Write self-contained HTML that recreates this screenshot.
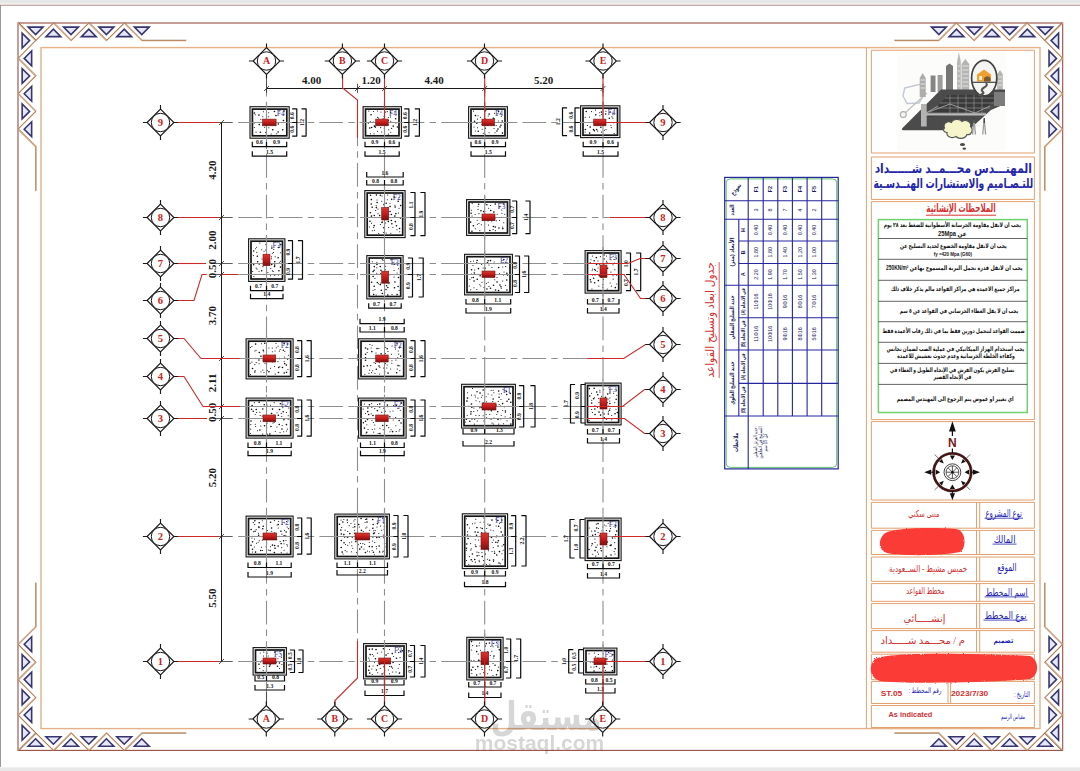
<!DOCTYPE html>
<html lang="ar"><head><meta charset="utf-8"><title>مخطط القواعد</title>
<style>html,body{margin:0;padding:0;background:#fff}body{width:1080px;height:771px;overflow:hidden}svg{display:block}</style>
</head><body>
<svg width="1080" height="771" viewBox="0 0 1080 771">
<defs><linearGradient id="cg" x1="0" y1="0" x2="0" y2="1"><stop offset="0" stop-color="#d83a30"/><stop offset=".5" stop-color="#c41c1c"/><stop offset="1" stop-color="#7a1010"/></linearGradient></defs>
<rect width="1080" height="771" fill="#fff"/>
<rect x="0" y="0" width="1080" height="3.2" fill="#e3e7e6"/><rect x="0" y="3.2" width="1080" height="1.6" fill="#f3ebea"/>
<rect x="0" y="4.8" width="1080" height="0.9" fill="#a58a86"/>
<rect x="0" y="5" width="0.9" height="762" fill="#9a8888"/>
<rect x="0" y="767.4" width="1080" height="3.6" fill="#e8e8e8"/>
<rect x="18" y="23" width="1044.7" height="727.4" fill="none" stroke="#9c4c42" stroke-width="1.1"/>
<rect x="41" y="47.6" width="999" height="681.0" fill="none" stroke="#e6b088" stroke-width="1.4"/>
<g id="orn" transform="translate(18,23)"><path d="M0 0 L17.6 17.6 L35.4 0 L53 17.6 L70.8 0 L88.4 17.6 L106.2 0 L123.8 17.6 L168 17.6 M0 0 L17.6 17.6 L0 35.4 L17.6 53 L0 70.8 L17.6 88.4 L0 106.2 L17.6 123.8 L17.6 168" fill="none" stroke="#d9a273" stroke-width="1.2"/><path d="M0 0 L17.6 17.6 L35.4 0 L53 17.6 L70.8 0 L88.4 17.6 L106.2 0 L123.8 17.6 L168 17.6 M0 0 L17.6 17.6 L0 35.4 L17.6 53 L0 70.8 L17.6 88.4 L0 106.2 L17.6 123.8 L17.6 168" fill="none" stroke="#6b4a3a" stroke-width="0.45" transform="translate(0.6,-0.5)"/><path d="M10.2 4.15 L25 4.15 L17.6 11.6Z M45.6 4.15 L60.4 4.15 L53 11.6Z M81 4.15 L95.8 4.15 L88.4 11.6Z M116.4 4.15 L131.2 4.15 L123.8 11.6Z M28 13.65 L42.8 13.65 L35.4 6.2Z M63.4 13.65 L78.2 13.65 L70.8 6.2Z M98.8 13.65 L113.6 13.65 L106.2 6.2Z M4.15 10.2 L4.15 25 L11.6 17.6Z M4.15 45.6 L4.15 60.4 L11.6 53Z M4.15 81 L4.15 95.8 L11.6 88.4Z M13.65 28 L13.65 42.8 L6.2 35.4Z M13.65 63.4 L13.65 78.2 L6.2 70.8Z M13.65 98.8 L13.65 113.6 L6.2 106.2Z" fill="#e6e8fa" stroke="#38356e" stroke-width="1.6" stroke-linejoin="miter"/></g>
<g transform="translate(1062.7,23) scale(-1,1)"><path d="M0 0 L17.6 17.6 L35.4 0 L53 17.6 L70.8 0 L88.4 17.6 L106.2 0 L123.8 17.6 L168 17.6 M0 0 L17.6 17.6 L0 35.4 L17.6 53 L0 70.8 L17.6 88.4 L0 106.2 L17.6 123.8 L17.6 168" fill="none" stroke="#d9a273" stroke-width="1.2"/><path d="M0 0 L17.6 17.6 L35.4 0 L53 17.6 L70.8 0 L88.4 17.6 L106.2 0 L123.8 17.6 L168 17.6 M0 0 L17.6 17.6 L0 35.4 L17.6 53 L0 70.8 L17.6 88.4 L0 106.2 L17.6 123.8 L17.6 168" fill="none" stroke="#6b4a3a" stroke-width="0.45" transform="translate(0.6,-0.5)"/><path d="M10.2 4.15 L25 4.15 L17.6 11.6Z M45.6 4.15 L60.4 4.15 L53 11.6Z M81 4.15 L95.8 4.15 L88.4 11.6Z M116.4 4.15 L131.2 4.15 L123.8 11.6Z M28 13.65 L42.8 13.65 L35.4 6.2Z M63.4 13.65 L78.2 13.65 L70.8 6.2Z M98.8 13.65 L113.6 13.65 L106.2 6.2Z M4.15 10.2 L4.15 25 L11.6 17.6Z M4.15 45.6 L4.15 60.4 L11.6 53Z M4.15 81 L4.15 95.8 L11.6 88.4Z M13.65 28 L13.65 42.8 L6.2 35.4Z M13.65 63.4 L13.65 78.2 L6.2 70.8Z M13.65 98.8 L13.65 113.6 L6.2 106.2Z" fill="#e6e8fa" stroke="#38356e" stroke-width="1.6" stroke-linejoin="miter"/></g>
<g transform="translate(18,750.4) scale(1,-1)"><path d="M0 0 L17.6 17.6 L35.4 0 L53 17.6 L70.8 0 L88.4 17.6 L106.2 0 L123.8 17.6 L168 17.6 M0 0 L17.6 17.6 L0 35.4 L17.6 53 L0 70.8 L17.6 88.4 L0 106.2 L17.6 123.8 L17.6 168" fill="none" stroke="#d9a273" stroke-width="1.2"/><path d="M0 0 L17.6 17.6 L35.4 0 L53 17.6 L70.8 0 L88.4 17.6 L106.2 0 L123.8 17.6 L168 17.6 M0 0 L17.6 17.6 L0 35.4 L17.6 53 L0 70.8 L17.6 88.4 L0 106.2 L17.6 123.8 L17.6 168" fill="none" stroke="#6b4a3a" stroke-width="0.45" transform="translate(0.6,-0.5)"/><path d="M10.2 4.15 L25 4.15 L17.6 11.6Z M45.6 4.15 L60.4 4.15 L53 11.6Z M81 4.15 L95.8 4.15 L88.4 11.6Z M116.4 4.15 L131.2 4.15 L123.8 11.6Z M28 13.65 L42.8 13.65 L35.4 6.2Z M63.4 13.65 L78.2 13.65 L70.8 6.2Z M98.8 13.65 L113.6 13.65 L106.2 6.2Z M4.15 10.2 L4.15 25 L11.6 17.6Z M4.15 45.6 L4.15 60.4 L11.6 53Z M4.15 81 L4.15 95.8 L11.6 88.4Z M13.65 28 L13.65 42.8 L6.2 35.4Z M13.65 63.4 L13.65 78.2 L6.2 70.8Z M13.65 98.8 L13.65 113.6 L6.2 106.2Z" fill="#e6e8fa" stroke="#38356e" stroke-width="1.6" stroke-linejoin="miter"/></g>
<g transform="translate(1062.7,750.4) scale(-1,-1)"><path d="M0 0 L17.6 17.6 L35.4 0 L53 17.6 L70.8 0 L88.4 17.6 L106.2 0 L123.8 17.6 L168 17.6 M0 0 L17.6 17.6 L0 35.4 L17.6 53 L0 70.8 L17.6 88.4 L0 106.2 L17.6 123.8 L17.6 168" fill="none" stroke="#d9a273" stroke-width="1.2"/><path d="M0 0 L17.6 17.6 L35.4 0 L53 17.6 L70.8 0 L88.4 17.6 L106.2 0 L123.8 17.6 L168 17.6 M0 0 L17.6 17.6 L0 35.4 L17.6 53 L0 70.8 L17.6 88.4 L0 106.2 L17.6 123.8 L17.6 168" fill="none" stroke="#6b4a3a" stroke-width="0.45" transform="translate(0.6,-0.5)"/><path d="M10.2 4.15 L25 4.15 L17.6 11.6Z M45.6 4.15 L60.4 4.15 L53 11.6Z M81 4.15 L95.8 4.15 L88.4 11.6Z M116.4 4.15 L131.2 4.15 L123.8 11.6Z M28 13.65 L42.8 13.65 L35.4 6.2Z M63.4 13.65 L78.2 13.65 L70.8 6.2Z M98.8 13.65 L113.6 13.65 L106.2 6.2Z M4.15 10.2 L4.15 25 L11.6 17.6Z M4.15 45.6 L4.15 60.4 L11.6 53Z M4.15 81 L4.15 95.8 L11.6 88.4Z M13.65 28 L13.65 42.8 L6.2 35.4Z M13.65 63.4 L13.65 78.2 L6.2 70.8Z M13.65 98.8 L13.65 113.6 L6.2 106.2Z" fill="#e6e8fa" stroke="#38356e" stroke-width="1.6" stroke-linejoin="miter"/></g>
<path d="M232 122.5H606" stroke="#8e8e8e" stroke-width="1.1" stroke-dasharray="23.7 5.2 6.5 5.2" stroke-dashoffset="34.4" fill="none"/>
<path d="M213 122.5H232" stroke="#333" stroke-width="0.8"/>
<path d="M232 217.5H609" stroke="#8e8e8e" stroke-width="1.1" stroke-dasharray="23.7 5.2 6.5 5.2" stroke-dashoffset="34.4" fill="none"/>
<path d="M213 217.5H232" stroke="#333" stroke-width="0.8"/>
<path d="M232 263.5H590" stroke="#8e8e8e" stroke-width="1.1" stroke-dasharray="23.7 5.2 6.5 5.2" stroke-dashoffset="34.4" fill="none"/>
<path d="M213 263.5H232" stroke="#333" stroke-width="0.8"/>
<path d="M232 274.5H590" stroke="#8e8e8e" stroke-width="1.1" stroke-dasharray="23.7 5.2 6.5 5.2" stroke-dashoffset="34.4" fill="none"/>
<path d="M213 274.5H232" stroke="#333" stroke-width="0.8"/>
<path d="M232 358.5H590" stroke="#8e8e8e" stroke-width="1.1" stroke-dasharray="23.7 5.2 6.5 5.2" stroke-dashoffset="34.4" fill="none"/>
<path d="M213 358.5H232" stroke="#333" stroke-width="0.8"/>
<path d="M232 406.5H590" stroke="#8e8e8e" stroke-width="1.1" stroke-dasharray="23.7 5.2 6.5 5.2" stroke-dashoffset="34.4" fill="none"/>
<path d="M213 406.5H232" stroke="#333" stroke-width="0.8"/>
<path d="M232 418.5H590" stroke="#8e8e8e" stroke-width="1.1" stroke-dasharray="23.7 5.2 6.5 5.2" stroke-dashoffset="34.4" fill="none"/>
<path d="M213 418.5H232" stroke="#333" stroke-width="0.8"/>
<path d="M232 536.5H612" stroke="#8e8e8e" stroke-width="1.1" stroke-dasharray="23.7 5.2 6.5 5.2" stroke-dashoffset="34.4" fill="none"/>
<path d="M213 536.5H232" stroke="#333" stroke-width="0.8"/>
<path d="M232 661.5H606" stroke="#8e8e8e" stroke-width="1.1" stroke-dasharray="23.7 5.2 6.5 5.2" stroke-dashoffset="34.4" fill="none"/>
<path d="M213 661.5H232" stroke="#333" stroke-width="0.8"/>
<path d="M266.5 88.5V705" stroke="#8e8e8e" stroke-width="1.1" stroke-dasharray="23.7 5.2 6.5 5.2" stroke-dashoffset="15.6" fill="none"/>
<path d="M357.5 138V641" stroke="#8e8e8e" stroke-width="1.1" stroke-dasharray="23.7 5.2 6.5 5.2" stroke-dashoffset="15.6" fill="none"/>
<path d="M384.5 88.5V705" stroke="#8e8e8e" stroke-width="1.1" stroke-dasharray="23.7 5.2 6.5 5.2" stroke-dashoffset="15.6" fill="none"/>
<path d="M484.7 88.5V705" stroke="#8e8e8e" stroke-width="1.1" stroke-dasharray="23.7 5.2 6.5 5.2" stroke-dashoffset="15.6" fill="none"/>
<path d="M603 88.5V705" stroke="#8e8e8e" stroke-width="1.1" stroke-dasharray="23.7 5.2 6.5 5.2" stroke-dashoffset="15.6" fill="none"/>
<path d="M266.5 88.5H603" stroke="#1a1a1a" stroke-width="1"/>
<path d="M266.5 83.7V92.8 M264 91L269 86" stroke="#222" stroke-width="0.8"/>
<path d="M357.5 83.7V92.8 M355 91L360 86" stroke="#222" stroke-width="0.8"/>
<path d="M384.5 83.7V92.8 M382 91L387 86" stroke="#222" stroke-width="0.8"/>
<path d="M484.7 83.7V92.8 M482.2 91L487.2 86" stroke="#222" stroke-width="0.8"/>
<path d="M603 83.7V92.8 M600.5 91L605.5 86" stroke="#222" stroke-width="0.8"/>
<path d="M221.5 122.5V661.5" stroke="#1a1a1a" stroke-width="1"/>
<path d="M219 125L224 120" stroke="#222" stroke-width="0.8"/>
<path d="M219 220L224 215" stroke="#222" stroke-width="0.8"/>
<path d="M219 266L224 261" stroke="#222" stroke-width="0.8"/>
<path d="M219 277L224 272" stroke="#222" stroke-width="0.8"/>
<path d="M219 361L224 356" stroke="#222" stroke-width="0.8"/>
<path d="M219 409L224 404" stroke="#222" stroke-width="0.8"/>
<path d="M219 421L224 416" stroke="#222" stroke-width="0.8"/>
<path d="M219 539L224 534" stroke="#222" stroke-width="0.8"/>
<path d="M219 664L224 659" stroke="#222" stroke-width="0.8"/>
<text x="311.5" y="84.2" text-anchor="middle" font-family="Liberation Serif,serif" font-weight="bold" font-size="11" fill="#1a1a1a">4.00</text>
<text x="371" y="84.2" text-anchor="middle" font-family="Liberation Serif,serif" font-weight="bold" font-size="11" fill="#1a1a1a">1.20</text>
<text x="434" y="84.2" text-anchor="middle" font-family="Liberation Serif,serif" font-weight="bold" font-size="11" fill="#1a1a1a">4.40</text>
<text x="543.7" y="84.2" text-anchor="middle" font-family="Liberation Serif,serif" font-weight="bold" font-size="11" fill="#1a1a1a">5.20</text>
<text transform="translate(216.2,170) rotate(-90)" text-anchor="middle" font-family="Liberation Serif,serif" font-weight="bold" font-size="11" fill="#1a1a1a">4.20</text>
<text transform="translate(216.2,240) rotate(-90)" text-anchor="middle" font-family="Liberation Serif,serif" font-weight="bold" font-size="11" fill="#1a1a1a">2.00</text>
<text transform="translate(216.2,268.5) rotate(-90)" text-anchor="middle" font-family="Liberation Serif,serif" font-weight="bold" font-size="11" fill="#1a1a1a">0.50</text>
<text transform="translate(216.2,315.7) rotate(-90)" text-anchor="middle" font-family="Liberation Serif,serif" font-weight="bold" font-size="11" fill="#1a1a1a">3.70</text>
<text transform="translate(216.2,382.8) rotate(-90)" text-anchor="middle" font-family="Liberation Serif,serif" font-weight="bold" font-size="11" fill="#1a1a1a">2.11</text>
<text transform="translate(216.2,412.4) rotate(-90)" text-anchor="middle" font-family="Liberation Serif,serif" font-weight="bold" font-size="11" fill="#1a1a1a">0.50</text>
<text transform="translate(216.2,477.5) rotate(-90)" text-anchor="middle" font-family="Liberation Serif,serif" font-weight="bold" font-size="11" fill="#1a1a1a">5.20</text>
<text transform="translate(216.2,598) rotate(-90)" text-anchor="middle" font-family="Liberation Serif,serif" font-weight="bold" font-size="11" fill="#1a1a1a">5.50</text>
<path d="M266.5 75V88.5" stroke="#444" stroke-width="0.9"/>
<path d="M266.5 692V705" stroke="#444" stroke-width="0.9"/>
<rect x="250" y="106.7" width="39.2" height="31.5" fill="#fafafa" stroke="#141414" stroke-width="1.1"/>
<rect x="252.4" y="109.1" width="34.4" height="26.7" fill="#fff" stroke="#141414" stroke-width="1.7"/>
<rect x="363.1" y="106.7" width="38.3" height="31.5" fill="#fafafa" stroke="#141414" stroke-width="1.1"/>
<rect x="365.5" y="109.1" width="33.5" height="26.7" fill="#fff" stroke="#141414" stroke-width="1.7"/>
<rect x="468.6" y="106.7" width="38.8" height="31.5" fill="#fafafa" stroke="#141414" stroke-width="1.1"/>
<rect x="471" y="109.1" width="34" height="26.7" fill="#fff" stroke="#141414" stroke-width="1.7"/>
<rect x="580.6" y="105.8" width="39.3" height="31.8" fill="#fafafa" stroke="#141414" stroke-width="1.1"/>
<rect x="583" y="108.2" width="34.5" height="27" fill="#fff" stroke="#141414" stroke-width="1.7"/>
<rect x="364.8" y="190.6" width="40.3" height="47" fill="#fafafa" stroke="#141414" stroke-width="1.1"/>
<rect x="367.2" y="193" width="35.5" height="42.2" fill="#fff" stroke="#141414" stroke-width="1.7"/>
<rect x="466.6" y="199.6" width="43.3" height="35.8" fill="#fafafa" stroke="#141414" stroke-width="1.1"/>
<rect x="469" y="202" width="38.5" height="31" fill="#fff" stroke="#141414" stroke-width="1.7"/>
<rect x="248.6" y="238.8" width="36.3" height="42.6" fill="#fafafa" stroke="#141414" stroke-width="1.1"/>
<rect x="251" y="241.2" width="31.5" height="37.8" fill="#fff" stroke="#141414" stroke-width="1.7"/>
<rect x="366.8" y="255.6" width="36.3" height="43.3" fill="#fafafa" stroke="#141414" stroke-width="1.1"/>
<rect x="369.2" y="258" width="31.5" height="38.5" fill="#fff" stroke="#141414" stroke-width="1.7"/>
<rect x="464.6" y="254.3" width="47.8" height="40.6" fill="#fafafa" stroke="#141414" stroke-width="1.1"/>
<rect x="467" y="256.7" width="43" height="35.8" fill="#fff" stroke="#141414" stroke-width="1.7"/>
<rect x="585.1" y="250.6" width="36" height="42.5" fill="#fafafa" stroke="#141414" stroke-width="1.1"/>
<rect x="587.5" y="253" width="31.2" height="37.7" fill="#fff" stroke="#141414" stroke-width="1.7"/>
<rect x="246.1" y="338.8" width="47" height="40.1" fill="#fafafa" stroke="#141414" stroke-width="1.1"/>
<rect x="248.5" y="341.2" width="42.2" height="35.3" fill="#fff" stroke="#141414" stroke-width="1.7"/>
<rect x="358.6" y="338.8" width="47.5" height="40.1" fill="#fafafa" stroke="#141414" stroke-width="1.1"/>
<rect x="361" y="341.2" width="42.7" height="35.3" fill="#fff" stroke="#141414" stroke-width="1.7"/>
<rect x="246.1" y="398.1" width="47" height="40" fill="#fafafa" stroke="#141414" stroke-width="1.1"/>
<rect x="248.5" y="400.5" width="42.2" height="35.2" fill="#fff" stroke="#141414" stroke-width="1.7"/>
<rect x="358.6" y="398.1" width="47.5" height="40" fill="#fafafa" stroke="#141414" stroke-width="1.1"/>
<rect x="361" y="400.5" width="42.7" height="35.2" fill="#fff" stroke="#141414" stroke-width="1.7"/>
<rect x="461.6" y="384.3" width="53.8" height="43.8" fill="#fafafa" stroke="#141414" stroke-width="1.1"/>
<rect x="464" y="386.7" width="49" height="39" fill="#fff" stroke="#141414" stroke-width="1.7"/>
<rect x="585.1" y="383.1" width="36" height="41.8" fill="#fafafa" stroke="#141414" stroke-width="1.1"/>
<rect x="587.5" y="385.5" width="31.2" height="37" fill="#fff" stroke="#141414" stroke-width="1.7"/>
<rect x="246.1" y="516.1" width="47" height="40.8" fill="#fafafa" stroke="#141414" stroke-width="1.1"/>
<rect x="248.5" y="518.5" width="42.2" height="36" fill="#fff" stroke="#141414" stroke-width="1.7"/>
<rect x="334.8" y="514.1" width="54.6" height="44.8" fill="#fafafa" stroke="#141414" stroke-width="1.1"/>
<rect x="337.2" y="516.5" width="49.8" height="40" fill="#fff" stroke="#141414" stroke-width="1.7"/>
<rect x="462.3" y="513.8" width="45.3" height="54.8" fill="#fafafa" stroke="#141414" stroke-width="1.1"/>
<rect x="464.7" y="516.2" width="40.5" height="50" fill="#fff" stroke="#141414" stroke-width="1.7"/>
<rect x="585.1" y="518.1" width="36" height="42.5" fill="#fafafa" stroke="#141414" stroke-width="1.1"/>
<rect x="587.5" y="520.5" width="31.2" height="37.7" fill="#fff" stroke="#141414" stroke-width="1.7"/>
<rect x="253.1" y="647.6" width="33.3" height="27.5" fill="#fafafa" stroke="#141414" stroke-width="1.1"/>
<rect x="255.5" y="650" width="28.5" height="22.7" fill="#fff" stroke="#141414" stroke-width="1.7"/>
<rect x="363.6" y="643.6" width="42.8" height="35.3" fill="#fafafa" stroke="#141414" stroke-width="1.1"/>
<rect x="366" y="646" width="38" height="30.5" fill="#fff" stroke="#141414" stroke-width="1.7"/>
<rect x="466.8" y="637.3" width="36.3" height="42.6" fill="#fafafa" stroke="#141414" stroke-width="1.1"/>
<rect x="469.2" y="639.7" width="31.5" height="37.8" fill="#fff" stroke="#141414" stroke-width="1.7"/>
<rect x="583.6" y="648.1" width="33.3" height="26.8" fill="#fafafa" stroke="#141414" stroke-width="1.1"/>
<rect x="586" y="650.5" width="28.5" height="22" fill="#fff" stroke="#141414" stroke-width="1.7"/>
<path d="M255.2 114.8h.1M254.1 123h.1M254.3 127.5h.1M256 132.1h.1M260.8 119.3h.1M263.5 111.7h.1M262.7 116.7h.1M264.5 119.7h.1M264.6 127.2h.1M268.6 112.7h.1M268.3 116.8h.1M268.8 122h.1M266 125.2h.1M268.8 127.7h.1M270.3 119.5h.1M270.1 124.3h.1M271.1 133.9h.1M275.1 120.7h.1M275.6 124.9h.1M276.6 133.8h.1M279.2 111h.1M283 115.1h.1M368.8 111.1h.1M370.4 121.8h.1M368.3 123.3h.1M370.4 133.8h.1M373.4 111.4h.1M373.3 122.1h.1M374 133.7h.1M377.5 110.9h.1M377.4 117.3h.1M377.5 119.8h.1M376.1 124.1h.1M377.5 131.2h.1M380.9 111.9h.1M378.6 118.1h.1M381.8 120.2h.1M380.6 127.6h.1M381.7 132h.1M385.6 112.1h.1M383.1 118.6h.1M384.1 125.3h.1M384.2 128.7h.1M387.2 111.6h.1M388.3 117.4h.1M388.4 120.5h.1M387.9 124.6h.1M388.7 129.8h.1M388.3 134.1h.1M390.4 117h.1M390.7 121.2h.1M391.6 128.4h.1M390.7 132.2h.1M394.7 111.8h.1M395.8 122.9h.1M473.5 111.1h.1M474 126.9h.1M475.3 131h.1M478 115.8h.1M477.4 119.1h.1M477.5 127.8h.1M480.4 117.3h.1M481.9 124.4h.1M482.1 129.2h.1M483.3 133.2h.1M485.2 134.2h.1M488.2 116h.1M489 132.8h.1M494.4 113.2h.1M494.4 118.8h.1M494.3 125.3h.1M494 128.5h.1M495 132.8h.1M497.3 115h.1M498.3 120.9h.1M496.1 125.5h.1M500.7 113.3h.1M501.3 116.3h.1M585.2 117.3h.1M587.4 125.4h.1M585 132h.1M591.4 111.6h.1M589.3 117.1h.1M595.5 110.1h.1M599.6 112.7h.1M599.8 115.8h.1M598.1 124.7h.1M597.7 131.1h.1M601.4 132.1h.1M605.9 111.2h.1M604.9 119.7h.1M606 129.5h.1M604.5 130.2h.1M611.8 116.8h.1M610.9 125.3h.1M611.2 127.6h.1M613.2 113.1h.1M612.9 114.7h.1M612.8 118.1h.1M613.8 122.7h.1M614.1 133.5h.1M371.5 223.3h.1M369.4 227h.1M372.2 230.7h.1M376.1 205.6h.1M375.6 210.5h.1M373.6 227.4h.1M374.4 230.3h.1M377 199.9h.1M377.9 209h.1M377.9 213.8h.1M380.3 224.5h.1M378.7 233.5h.1M382 196h.1M381.7 201.3h.1M382.2 221.8h.1M383.3 232.5h.1M387.6 194.9h.1M387.3 199.8h.1M387.3 207.5h.1M387 211.2h.1M388.8 214.7h.1M385.6 222.9h.1M388.6 227.5h.1M386.1 232.9h.1M390 203.3h.1M392.8 227.3h.1M390.8 233.2h.1M394.9 205.3h.1M396.9 229.7h.1M398.9 197.7h.1M399 208.2h.1M398.4 212.9h.1M400.3 218.4h.1M399.6 231.7h.1M472.1 203.6h.1M471.3 210.3h.1M472 216h.1M478.1 206.2h.1M478 209.4h.1M475.1 214.5h.1M477.2 220.3h.1M477.4 224.3h.1M475.2 228.8h.1M478.9 213.6h.1M481.6 217.7h.1M478.9 223.4h.1M481.3 224.8h.1M479.8 230.6h.1M485.1 203.7h.1M484.8 211.2h.1M484.7 217.3h.1M482.9 220.6h.1M488.6 208.3h.1M486.8 218h.1M488.5 225.1h.1M490.6 205.4h.1M492.3 218h.1M493.1 229.5h.1M497.1 214.2h.1M495.4 217.7h.1M496.3 220.7h.1M495.3 230.6h.1M501.7 209.9h.1M501.9 213.3h.1M501.5 217.3h.1M499.5 220.5h.1M504.7 214.2h.1M503.7 222.7h.1M502.6 227h.1M255.5 248.8h.1M253.3 255.6h.1M256.1 267.9h.1M252.6 271.5h.1M253.8 276.5h.1M259.8 243h.1M256.6 247.3h.1M256.7 252.2h.1M256.9 268.9h.1M259 271.3h.1M259.9 274.3h.1M261.7 249.8h.1M264 251.3h.1M263.6 257.1h.1M262 258.9h.1M263.5 262.8h.1M262.9 266.6h.1M265.6 250h.1M265.3 255.8h.1M265.3 263h.1M267.8 272.5h.1M266.6 274.5h.1M271.8 245.9h.1M272.3 253.2h.1M271.5 256.7h.1M271.4 258.7h.1M270.7 268.4h.1M272.5 270.7h.1M270.5 275.7h.1M273.7 249.4h.1M273.5 252.5h.1M275.1 256.7h.1M273.2 271.5h.1M280.3 252.8h.1M280.3 261.2h.1M279.3 262.7h.1M372.3 261.8h.1M373 290.2h.1M376.8 262.2h.1M376.7 267.7h.1M376.7 273.3h.1M374.9 278.5h.1M378.4 283.7h.1M374.9 289.6h.1M376.1 294.9h.1M382.3 259.6h.1M380.5 273.5h.1M382 276.9h.1M380.8 282.9h.1M383.1 260.2h.1M385.5 266.3h.1M385.4 269.7h.1M385.6 272.2h.1M384.7 292.6h.1M390.7 259.7h.1M389.4 274.8h.1M389.4 282.8h.1M388.8 283.8h.1M391.8 259.6h.1M394 270.5h.1M394 277.1h.1M392 294.5h.1M397.6 265.1h.1M398.4 268.8h.1M397 272.9h.1M399.1 290.4h.1M470.7 261.6h.1M468.5 263.3h.1M471.5 273.9h.1M471.6 277.8h.1M469.8 279.3h.1M469.2 285.9h.1M470.7 289.8h.1M473.5 261h.1M472.9 265.4h.1M474.6 269.9h.1M473.9 287.7h.1M476.7 262.5h.1M478.1 274.2h.1M479.7 284.8h.1M476.8 289.5h.1M481.6 264.5h.1M483.1 268h.1M481.9 282.3h.1M480.8 286h.1M485.4 274.9h.1M488.1 282.2h.1M486.3 283.5h.1M488.9 265h.1M491.9 267.5h.1M490.5 276h.1M488.9 286.5h.1M494.1 261.9h.1M493.1 263.4h.1M494.7 279.7h.1M499.4 273.7h.1M497 277.5h.1M503 262.4h.1M502.7 267h.1M504 271.9h.1M503.6 275h.1M502.6 280.9h.1M501.2 288.2h.1M505.6 266.6h.1M505.4 285.3h.1M592.5 255.9h.1M590.9 259.8h.1M592.6 269h.1M592.1 270.3h.1M592.4 274.9h.1M591.9 289h.1M595.5 270.5h.1M595 274.9h.1M600.3 256.6h.1M597.9 260.9h.1M598 268h.1M597.2 271.3h.1M598.8 285.9h.1M603.7 264.5h.1M603.2 268.8h.1M603 272.9h.1M603.4 279.6h.1M602.8 284.5h.1M602.7 287.3h.1M606.4 255.9h.1M606.5 261.2h.1M606.5 273.1h.1M606.1 275.5h.1M607.2 288.9h.1M613.1 256.3h.1M610.9 259.7h.1M612.9 264.7h.1M610.9 272.1h.1M613 275.7h.1M613.1 279.1h.1M610.1 282.9h.1M611.3 286.1h.1M616.5 258h.1M614.1 259.4h.1M614.2 262.9h.1M614.8 269.7h.1M616.4 275.1h.1M616.6 283.9h.1M251.9 346.4h.1M250.4 347.4h.1M251.9 362.1h.1M250.2 363.2h.1M250.4 374.6h.1M256 350.3h.1M254.8 351h.1M255.1 358.3h.1M256.1 362.6h.1M254.8 364.6h.1M255.1 370.4h.1M261.4 343.8h.1M259.1 363.7h.1M260.9 371.8h.1M263.7 351.7h.1M264.4 355.9h.1M263.2 360h.1M265 363.6h.1M262.8 370.1h.1M263.9 372.5h.1M268.9 348h.1M266.6 363.6h.1M267.3 370.6h.1M272.2 348.1h.1M272.3 351.8h.1M270.5 368.3h.1M276 343.4h.1M276.3 347.7h.1M275 350.9h.1M274.8 355.1h.1M274.5 366.5h.1M275.2 374.1h.1M278 346.2h.1M280.2 349.5h.1M279.3 351.1h.1M277.9 361.6h.1M279.7 366.7h.1M284.8 351.4h.1M284.6 357h.1M284.1 361.3h.1M288.3 355.3h.1M287.6 359.5h.1M287.9 369.5h.1M364.8 374.3h.1M369.9 344.5h.1M367.1 352.5h.1M369.6 370.1h.1M368.9 373.2h.1M372.1 345.2h.1M371.1 347.9h.1M372.2 358.5h.1M374 362.6h.1M370.7 365.6h.1M372.6 370.7h.1M371.6 372.6h.1M375.9 353h.1M375.4 363.5h.1M374.9 373.2h.1M378.8 348.4h.1M381.1 355.3h.1M379.2 362.6h.1M379.9 367.3h.1M379.6 373.9h.1M384.8 345.9h.1M385.7 347.4h.1M385.3 353.4h.1M383.9 357.7h.1M385.4 363.6h.1M383.5 367.9h.1M387.9 351.4h.1M389 357.9h.1M387.1 365h.1M386.7 367.9h.1M392 345.9h.1M391.4 354.2h.1M391.9 360.8h.1M391.8 363.2h.1M390.6 368.9h.1M395.5 348.9h.1M398.2 351h.1M397.7 357.8h.1M395.9 360.1h.1M397.2 369.1h.1M399.8 346.3h.1M398.6 354.1h.1M399.7 365.8h.1M399.8 370.6h.1M250.7 424.6h.1M250.7 429.1h.1M250.3 433.5h.1M254.4 402.7h.1M256.6 412.5h.1M255.2 414.4h.1M255.2 424.2h.1M255.6 426.5h.1M257.5 430.7h.1M260.7 406.4h.1M259.8 412.3h.1M260.1 415.4h.1M260.5 421.1h.1M260.7 426h.1M262.1 416.1h.1M262.7 434.1h.1M267.1 404.9h.1M269.1 406.5h.1M267.3 421.7h.1M266.7 427.2h.1M270.4 405.2h.1M271.9 415.9h.1M272.9 423h.1M274.1 402.6h.1M277 412.8h.1M273.9 415.1h.1M274.1 422.5h.1M276.9 426.9h.1M275.3 431.2h.1M281.2 413.4h.1M280 432.5h.1M285.2 405.2h.1M282.8 407.6h.1M281.7 416.5h.1M282.1 425.5h.1M283.6 431.7h.1M288.7 407.9h.1M286.5 412.5h.1M288.2 415.7h.1M288.1 419.5h.1M287.3 429.1h.1M286.4 431h.1M364.4 403.9h.1M363.1 409.1h.1M365.5 413.4h.1M366.1 433.1h.1M366.8 424.7h.1M368 429.4h.1M371.6 403.5h.1M371.8 407.5h.1M371.2 413.7h.1M371.9 420.2h.1M373.3 422.5h.1M372.2 429.5h.1M373.7 432.1h.1M377.5 404.5h.1M374.7 408.6h.1M374.9 418.6h.1M374.7 424.9h.1M374.7 429h.1M378.1 433.5h.1M381.6 412.2h.1M378.7 415.3h.1M379.9 428.2h.1M385.4 411.2h.1M384.7 415.9h.1M385.7 418.5h.1M383.2 429.8h.1M384.3 433h.1M390 411.7h.1M388.7 427.6h.1M389.9 431.7h.1M393.5 405.6h.1M392.9 411h.1M393.2 419.9h.1M391 429.8h.1M397.7 408.3h.1M395.6 417.5h.1M397.9 418.4h.1M395.8 425.8h.1M396.2 431.4h.1M398.9 408.1h.1M400.3 410.3h.1M399.8 429.5h.1M399.1 430.9h.1M467.4 392.7h.1M468.5 406.2h.1M467.2 415.3h.1M465.6 422h.1M472.5 388.5h.1M471.4 395.1h.1M476.6 391.8h.1M475 395.1h.1M475.4 397h.1M476 400.7h.1M473.8 407.9h.1M473.7 411.4h.1M475.8 415.5h.1M474.7 419.5h.1M474.3 424.1h.1M477.5 391.7h.1M477.9 398.1h.1M479.6 401.8h.1M479.5 407.8h.1M477.4 410.8h.1M479.2 415.5h.1M477.2 421h.1M482.2 395.3h.1M481.3 397.3h.1M483.1 415.7h.1M484.3 418.4h.1M483.9 421.1h.1M488.1 393.9h.1M486.1 396.7h.1M486.6 401.7h.1M487.1 404.7h.1M488.2 409.7h.1M486.1 414.4h.1M486.6 417.8h.1M491.1 390.2h.1M491.8 394.9h.1M489.2 403.8h.1M489.7 414.5h.1M491 419.4h.1M492 423.1h.1M493.1 390.3h.1M493.8 392.8h.1M492.7 401.4h.1M493.2 409.6h.1M493.9 417.9h.1M493.3 423.9h.1M499.1 394h.1M498.3 401.4h.1M499.1 404.5h.1M496.7 414.5h.1M498.7 424.1h.1M503 389.6h.1M501.5 393.7h.1M500.9 399.5h.1M500.5 405.9h.1M502.6 410.5h.1M501.2 415.5h.1M500.8 419h.1M503.4 423.8h.1M504.5 406.8h.1M505.3 412.5h.1M505.1 416.7h.1M507 420.7h.1M508.1 406.2h.1M510.5 414.6h.1M510.1 417.3h.1M591.5 393.3h.1M591.7 400.2h.1M591.6 409.4h.1M592.4 412.4h.1M589.1 420.5h.1M594.4 397.7h.1M594.8 405.7h.1M599.8 390.2h.1M599.9 392.1h.1M598.6 398.5h.1M598.9 402.4h.1M597.4 407.2h.1M597.6 418.3h.1M603.6 389.4h.1M601.5 396.3h.1M603.9 399.3h.1M603 402.8h.1M601.5 406.9h.1M602.7 412.6h.1M608.8 387.7h.1M608 399.1h.1M607.2 402.6h.1M608.7 406.1h.1M608.4 411.7h.1M609.5 389.8h.1M609.8 398h.1M609.8 401h.1M610 408.2h.1M611.6 415.5h.1M611.7 419.8h.1M616.4 390.1h.1M613.6 393.2h.1M616.7 395.3h.1M614.7 402.6h.1M615.9 409.3h.1M616.9 418.7h.1M253.2 522.6h.1M253.4 531.7h.1M251.9 538h.1M252.4 552h.1M254.7 524.6h.1M256.1 529.6h.1M254.5 538.9h.1M256.4 543.2h.1M254.3 547h.1M258.7 526.6h.1M258.5 533.3h.1M259.3 540.7h.1M258.1 542.3h.1M261.4 547.2h.1M262.3 520.8h.1M262.3 540.1h.1M262.5 550.4h.1M267.5 530.5h.1M268.5 536.7h.1M268.9 538.9h.1M266.7 542.8h.1M266.1 546.8h.1M268.4 549.9h.1M271.6 531.2h.1M271.7 535.6h.1M272.1 539h.1M270.4 546.7h.1M274.3 520.6h.1M277.1 525h.1M274.6 532.7h.1M275.5 538.1h.1M276.7 539.2h.1M278.6 521.5h.1M278.2 527.9h.1M279.8 536.3h.1M280.1 541.4h.1M281.2 552.6h.1M284.7 522.7h.1M282.1 524.5h.1M284.5 530.4h.1M281.9 534.1h.1M283.9 543.8h.1M281.7 547.6h.1M284 550.3h.1M286.5 521.4h.1M287.1 526.9h.1M288.3 528.6h.1M285.8 535.3h.1M285.9 540.5h.1M286.9 544.6h.1M287.4 546h.1M287 552.9h.1M341 520.1h.1M341.6 527.5h.1M343.8 519.4h.1M345.1 530.1h.1M345.5 544.5h.1M345.1 550.6h.1M343 553.9h.1M347.4 522.6h.1M349.1 525.6h.1M347.6 531.4h.1M349.5 542.8h.1M347.7 545.2h.1M346.9 551.8h.1M353.8 520.9h.1M350.9 523.4h.1M353 527.2h.1M352.2 537.5h.1M351.6 542h.1M351.8 545.7h.1M352.7 548.3h.1M351.5 551.8h.1M354.9 519.6h.1M354.7 524.3h.1M354.6 530.2h.1M357.6 551h.1M356.6 552.6h.1M359.3 527h.1M359.6 533.6h.1M360.5 543.5h.1M365.5 519.4h.1M365 522.5h.1M365.8 527.9h.1M363.2 531.4h.1M363.5 539.5h.1M362.8 543.6h.1M364.6 544.3h.1M363.9 549h.1M366.9 527h.1M369.6 530.3h.1M367.9 536h.1M369.2 542.2h.1M367.5 551.1h.1M369.5 551.8h.1M373.7 530.7h.1M372.8 537.3h.1M372.5 540.9h.1M372.1 550.5h.1M377.3 521h.1M376.9 526.9h.1M375.1 530.6h.1M374.7 542.5h.1M376.2 546.6h.1M376.6 548.8h.1M374.3 554.8h.1M380.4 525.9h.1M381.6 530.3h.1M378.7 533.5h.1M379.6 551.2h.1M379.7 552.3h.1M382.6 518.2h.1M383.4 522.9h.1M384 529.2h.1M383.2 535.1h.1M383.5 537.7h.1M385 546.8h.1M383.2 551.1h.1M382.6 552h.1M466.3 518.8h.1M469.4 527.9h.1M467.5 531.7h.1M466.4 550.2h.1M469.3 556.6h.1M466.5 560.5h.1M468.7 564.2h.1M472.5 523.8h.1M470.1 536h.1M470.6 543.6h.1M471.2 548.8h.1M470.8 550.1h.1M472.3 561.3h.1M475.7 519.3h.1M474.9 523.1h.1M475.2 539.8h.1M475.2 544.8h.1M476.9 552.1h.1M475.4 562.1h.1M480.1 522.2h.1M480.7 527.7h.1M477.9 536.6h.1M478.4 540h.1M480 546.1h.1M478.8 552.6h.1M479 555.3h.1M479.1 560.3h.1M479.2 561.6h.1M483.7 517.9h.1M483.9 522.1h.1M481.6 532.6h.1M482.9 540h.1M481.8 546h.1M481.9 552.6h.1M483.4 560.6h.1M483.2 564.2h.1M487.9 524.1h.1M486.7 528.5h.1M485.7 532h.1M485.7 534h.1M486.1 538.8h.1M487.1 542h.1M488.4 550.7h.1M487.3 559.2h.1M486.4 564.5h.1M489.1 525.6h.1M490.7 530h.1M491.3 536.8h.1M492.2 542.5h.1M492 551.4h.1M489.8 564.3h.1M496 519.1h.1M496.1 526h.1M493.2 530.8h.1M496.1 537h.1M493.3 540h.1M493.2 547.4h.1M494.4 551.3h.1M493.5 561.5h.1M499.4 523.3h.1M496.8 535.8h.1M497.6 542.6h.1M500.3 522.4h.1M500.6 528h.1M502 546h.1M503.1 550.3h.1M501.9 553.7h.1M502.6 559.7h.1M500.5 563.7h.1M589.2 527.9h.1M591.6 531.1h.1M591.6 545.8h.1M592.7 554.3h.1M596.3 524.1h.1M594.9 539.1h.1M595 542.5h.1M595.7 556.1h.1M598.5 528.5h.1M598 532.5h.1M597.3 544.9h.1M597.6 552.1h.1M598.5 554.1h.1M604.6 525h.1M602.8 527h.1M601.8 530.8h.1M602.5 536.7h.1M602.9 546.8h.1M608.1 523.2h.1M606 526h.1M606.4 530.5h.1M606.2 535.8h.1M605.5 538.7h.1M606.9 546.7h.1M610.8 522.1h.1M610.4 528.6h.1M612.3 536.7h.1M615.3 527.2h.1M614.9 538h.1M614.7 542.6h.1M614.1 551.6h.1M615 554h.1M260.2 652.9h.1M260.7 662h.1M259.7 668.5h.1M263.7 652.1h.1M263.5 656h.1M261.9 660.7h.1M263.7 666.4h.1M263.1 670.6h.1M267.1 653.1h.1M268.2 655.9h.1M266.3 670.6h.1M271.7 658.5h.1M273.3 660.3h.1M277.9 658.8h.1M280.7 653.7h.1M281.3 657.2h.1M281.8 664.5h.1M279.5 668.4h.1M368.7 658.1h.1M369.4 660h.1M372.3 654.5h.1M373.6 655.9h.1M374.5 662.3h.1M373 665.9h.1M371.8 668.9h.1M372.2 674.5h.1M377.3 653.1h.1M377.7 672.7h.1M381.7 652h.1M379.7 658.5h.1M380.2 668.5h.1M384.7 662.8h.1M383.5 666.8h.1M384.8 670.2h.1M383.9 672.9h.1M389.5 649.5h.1M388 653.5h.1M389.4 666.5h.1M388.2 670h.1M389.4 673.8h.1M393.5 656.5h.1M392.4 668.1h.1M392.6 671.9h.1M398.5 648.9h.1M398.5 652.6h.1M398.1 668.2h.1M396 672h.1M400.4 651.6h.1M400 657.6h.1M399.3 664.5h.1M472.6 645.6h.1M471.6 649.9h.1M471.1 660.2h.1M471.8 673.5h.1M478.2 653.9h.1M477.1 661.5h.1M475.5 669.5h.1M479.4 642.9h.1M479.1 645.8h.1M480.5 650.3h.1M481.4 654.3h.1M479.7 660.2h.1M482.7 662.4h.1M481.7 667.2h.1M482.2 669.5h.1M480.1 673.8h.1M485.8 653.7h.1M484.5 668.6h.1M490.8 646.4h.1M490.2 655.4h.1M487.9 663.2h.1M489.6 666.8h.1M489.3 669.7h.1M487.6 673.7h.1M493.7 643.5h.1M493 646.7h.1M491.8 651.2h.1M493.2 658h.1M493 663.5h.1M491.4 670.3h.1M492.9 675.5h.1M496.4 642.3h.1M498.6 667.1h.1M589 653.7h.1M590.9 667.1h.1M594.4 653h.1M595.3 656.7h.1M593 662.4h.1M593.9 666.9h.1M598.3 654.5h.1M598 658.1h.1M599.3 668.3h.1M603.2 653.8h.1M602.7 659.2h.1M601.4 661.6h.1M603.6 664.2h.1M608.4 652.6h.1M607 664.1h.1M605.3 670.4h.1M612.3 660.1h.1M611.6 666.5h.1" stroke="#111" stroke-width="1.05" stroke-linecap="round" fill="none"/>
<path d="M254.4 113h.1M258.9 115.1h.1M259.2 124.6h.1M260.3 132.2h.1M265.9 132.4h.1M272.7 129.8h.1M274.4 111.4h.1M275.9 115.6h.1M278.3 123.9h.1M278.1 132h.1M283.9 111.1h.1M283.4 120.4h.1M282.7 129.7h.1M369.7 127.9h.1M371 114.7h.1M374.3 126.1h.1M371.6 127.4h.1M375.3 127.1h.1M379.3 123.6h.1M384.3 116.5h.1M390.6 112.2h.1M393.2 126.1h.1M395.6 118.7h.1M397.4 127h.1M475.4 115.6h.1M474.5 121.2h.1M476.8 123.2h.1M478.2 131.3h.1M482 122h.1M485.5 110.8h.1M485.2 119.2h.1M487.3 125.1h.1M485.3 128.3h.1M489.1 114.1h.1M488.9 120.5h.1M488.5 124.1h.1M493.3 118.2h.1M498.5 111.4h.1M497.9 129.1h.1M496.9 131h.1M502.2 121h.1M500.9 125.3h.1M500 126.9h.1M502.4 133.1h.1M586.2 111.4h.1M585.3 129.4h.1M590.1 127.1h.1M589.6 133.1h.1M595.7 114.8h.1M596.1 120h.1M593.5 122.1h.1M593.5 129.4h.1M594.3 130.7h.1M596.6 129.4h.1M601.4 112.1h.1M601.9 114.4h.1M603.7 119.7h.1M604 123.6h.1M600.8 127.2h.1M605.7 114h.1M605.2 122.9h.1M610.1 111.9h.1M609.3 118.2h.1M370.5 195.3h.1M371.3 199.6h.1M371.2 203.9h.1M372.1 207.2h.1M370.3 212.8h.1M371.4 216.1h.1M369.9 221.2h.1M376.4 195h.1M376.3 207.6h.1M374.2 215.5h.1M374.1 225.6h.1M380.3 195.2h.1M377.1 202.5h.1M379.6 215.4h.1M383.9 204.6h.1M382.4 209.2h.1M383.8 211.2h.1M382 222.5h.1M383.7 227.8h.1M386.1 203.3h.1M388.3 221.5h.1M391.6 199.2h.1M390 206.4h.1M390 211.5h.1M391.3 214.5h.1M391.3 220.5h.1M391.8 223.7h.1M394.1 197.1h.1M395.1 207h.1M395.8 213.6h.1M394.8 216.1h.1M395.3 221.6h.1M396.4 225.7h.1M398.1 201.3h.1M400.6 205.4h.1M399.5 228.4h.1M471.1 213.3h.1M470.6 222.1h.1M473.3 225.7h.1M471.9 231.3h.1M478.6 204.2h.1M480.9 210.8h.1M483.6 211.6h.1M486.8 204.8h.1M486.9 215h.1M487.9 220.7h.1M489.8 230.5h.1M490.7 210.4h.1M493.8 212.1h.1M491.6 220.8h.1M493.3 226.4h.1M495.2 203.9h.1M495.2 227h.1M499.6 206.7h.1M498.9 227.9h.1M503.6 204h.1M502.8 228.6h.1M253.6 250.9h.1M253.6 264.8h.1M257.3 256.2h.1M257.6 261.7h.1M259.2 264h.1M261.6 270.7h.1M263.9 274.5h.1M266.1 244.5h.1M267.6 259.9h.1M271.8 248.1h.1M271.7 264.5h.1M274.7 261.7h.1M274.6 264.9h.1M274.5 266.4h.1M274.5 274.9h.1M280.8 244.6h.1M278.7 247.4h.1M278.1 257.8h.1M280.4 267.1h.1M278.9 270.7h.1M278.3 274.8h.1M374.2 266.6h.1M374.1 270.3h.1M373.1 271.5h.1M373.1 276.4h.1M371.6 282.2h.1M374.1 286.3h.1M373.6 294.4h.1M376.9 264.4h.1M377.3 282.5h.1M380.2 266.6h.1M380.9 270.2h.1M380.2 284.6h.1M381.3 290.2h.1M382.3 293.4h.1M385.9 275.8h.1M386.5 285.8h.1M386 289.4h.1M387.8 287.5h.1M387.7 294.9h.1M394.1 264.2h.1M394.9 282h.1M394.4 287.7h.1M398.4 277.5h.1M398.1 286.4h.1M397.1 294.6h.1M471.5 269.8h.1M474.3 272.9h.1M473.2 277.4h.1M474 280.9h.1M477.1 260.4h.1M478.4 268.6h.1M480.1 275.8h.1M477.2 279.3h.1M484.1 274.4h.1M484.2 287.5h.1M488.1 260.7h.1M487.4 262.8h.1M485.1 268.3h.1M485.2 273.2h.1M486.9 288.9h.1M490.4 260.6h.1M489.7 273.8h.1M490.4 288.3h.1M493.8 274.3h.1M494 275.3h.1M493.5 285.2h.1M495.5 289.9h.1M498.6 267.5h.1M497 282h.1M499.9 284.9h.1M498.5 290.5h.1M503.8 259.6h.1M500.9 286.7h.1M506.8 273.3h.1M507.5 275h.1M506.7 280h.1M506.9 290h.1M590.2 263.1h.1M590.3 279.8h.1M590.9 281.9h.1M596.3 257.6h.1M594.1 260.8h.1M596.5 264.5h.1M594.7 269.5h.1M593.6 278.3h.1M594.6 282.8h.1M599.4 263.9h.1M599.2 275.7h.1M598.3 280.6h.1M604 254.9h.1M604 258.9h.1M601.7 277.1h.1M607 262.9h.1M607.5 268.2h.1M615.3 287.6h.1M252.5 368.5h.1M255.6 344.1h.1M254.8 372h.1M259.3 352.4h.1M260.9 356.3h.1M258.9 359.9h.1M264.7 343.3h.1M263.2 350.3h.1M267.1 356.8h.1M268.9 371.8h.1M272 355.6h.1M272.4 361.7h.1M273.9 360h.1M279.5 358.4h.1M278.6 367.4h.1M278.4 372.5h.1M284.1 343.6h.1M283.3 350.2h.1M284.6 363.6h.1M282.4 367.5h.1M284.2 373h.1M287.3 344h.1M286.3 365.1h.1M286.5 372.2h.1M365.5 347.9h.1M365.6 354.3h.1M365.5 357.7h.1M365.5 360.2h.1M363.8 366.2h.1M367.6 348.9h.1M367.2 365.8h.1M371.8 351.6h.1M377 348.4h.1M376.6 356.4h.1M377.7 361.1h.1M376.3 369.3h.1M381.1 353.7h.1M379 366h.1M382.7 361.3h.1M384.6 371.7h.1M387.2 348.8h.1M388 373.1h.1M397 343.7h.1M398 365.6h.1M396.6 372.8h.1M399.5 347.7h.1M400.6 356.1h.1M252.1 405.6h.1M251.5 409.3h.1M253.2 411.2h.1M251 420.9h.1M256.2 409.5h.1M259.1 402.3h.1M259.8 429.9h.1M264.2 404.8h.1M262.7 408.9h.1M265.2 419.6h.1M264.5 425.8h.1M267.3 417.4h.1M266.6 423.3h.1M266.9 434.2h.1M272.5 409.1h.1M271.5 413.4h.1M270.5 421.5h.1M270.9 426.5h.1M269.8 433.9h.1M273.9 420.2h.1M280.3 403.8h.1M279.5 409.4h.1M278.3 415.2h.1M279.2 424.4h.1M283.1 411.7h.1M283.9 419.7h.1M281.9 429h.1M286.4 424.6h.1M365.5 421.3h.1M363.4 422.8h.1M364.4 428.1h.1M369.4 404.8h.1M367.8 408h.1M367.7 411.6h.1M368.6 414.4h.1M367.5 419.5h.1M366.7 432.2h.1M372.9 415.4h.1M377.3 410.6h.1M379.7 403.9h.1M379.5 407h.1M381.6 419.2h.1M379.9 433.5h.1M384.6 402.2h.1M384 408.2h.1M382.7 425.5h.1M387.3 405.1h.1M387.3 406.4h.1M389.8 416.7h.1M386.7 425.4h.1M392.5 431.6h.1M396.4 405.4h.1M401.4 403.1h.1M399.1 420.4h.1M401 423h.1M467.4 398.1h.1M466.9 401.1h.1M466.3 419.2h.1M471.4 403.9h.1M471.8 407.3h.1M471 411.8h.1M470.8 414h.1M471.9 419h.1M469.8 421.3h.1M480 393.1h.1M483.1 389.9h.1M483.3 403.3h.1M481.1 407.4h.1M484.3 409.7h.1M490.7 406.5h.1M491.3 410.8h.1M493.1 399h.1M495.9 405.1h.1M498.6 391h.1M499 397.3h.1M497.7 411.8h.1M497.9 419.5h.1M502.6 403.6h.1M506.4 391.4h.1M506.6 394.5h.1M507 401.3h.1M505.4 411h.1M510.2 393.5h.1M508.8 399.2h.1M510.8 402.3h.1M510.8 424.1h.1M589.3 388.6h.1M589.7 396h.1M591.6 403h.1M594.1 388.2h.1M596.7 391.9h.1M593.5 398.8h.1M594.8 408.9h.1M595 414.5h.1M597.7 394.7h.1M599 412.1h.1M600.5 415.1h.1M604 413.9h.1M604.2 417.7h.1M607.7 394h.1M605.4 397.2h.1M608.3 414h.1M606.4 418.9h.1M609.9 393h.1M609.8 403.5h.1M609.5 410.2h.1M616.1 399.3h.1M617.2 412.5h.1M615 413.8h.1M251.1 529.5h.1M252.5 541.8h.1M251 545.3h.1M252.5 549.3h.1M254.8 520.8h.1M255 531.3h.1M255.5 552.1h.1M259.1 522.8h.1M258.9 527.4h.1M258.6 535.3h.1M260.7 550.5h.1M263.2 526.3h.1M262.7 528.7h.1M263.6 534h.1M264.9 535.6h.1M270.5 522.2h.1M271.5 528h.1M272.4 545.1h.1M270.1 550.4h.1M274.6 545.5h.1M275 548.2h.1M274.3 552.4h.1M278.2 524.5h.1M280.9 531.3h.1M281.1 543.6h.1M278.1 546h.1M284.1 535.7h.1M283.5 540.8h.1M286.1 531.9h.1M339.4 524.3h.1M340.8 529.9h.1M341.3 533.9h.1M341.2 540.4h.1M341.2 547.5h.1M342.1 552.1h.1M342.8 522h.1M343.8 534.6h.1M344.6 536.9h.1M344 542.8h.1M347.2 519.9h.1M349.8 533.6h.1M347.5 537.2h.1M354.7 526.8h.1M354.8 533.2h.1M357.4 537.3h.1M355.9 541.6h.1M357.9 544.6h.1M361 518.4h.1M358.7 524.5h.1M361.4 530.3h.1M361.4 538.6h.1M361.4 546.9h.1M359.7 549.1h.1M362.8 534.8h.1M365.4 552.4h.1M366.6 519.1h.1M367 522h.1M369.3 538.6h.1M369.3 546.4h.1M372.7 519.4h.1M373.1 524.4h.1M372.8 528.2h.1M373.5 533.6h.1M372.1 546.8h.1M373.4 552.3h.1M377.4 523.6h.1M374.4 533h.1M376.7 537.5h.1M379.1 537.2h.1M379.1 545.9h.1M384.4 526.8h.1M384.6 543.6h.1M467.4 524.8h.1M467.5 534.9h.1M468 538.4h.1M466.7 543.9h.1M466.4 548.2h.1M472.4 553.9h.1M471.2 559.8h.1M476.9 527.6h.1M475.1 532h.1M476.5 535.3h.1M475.9 546.5h.1M477.1 555.7h.1M474.7 559.4h.1M477.9 532.3h.1M482.2 528.5h.1M484.5 542.1h.1M482.2 556.5h.1M488.4 548.8h.1M485.2 554h.1M491.9 520.1h.1M490 525.1h.1M491.4 537.5h.1M489.5 560.2h.1M495.8 542.3h.1M494.6 553.3h.1M493.5 559.9h.1M497.7 520.4h.1M498.6 526.2h.1M498.3 540.8h.1M498 545.9h.1M499.4 551.6h.1M496.7 555h.1M499 563h.1M501.8 520h.1M501.2 531.9h.1M502.6 535h.1M503.7 544.7h.1M592.6 535.2h.1M592.2 543.7h.1M589 549.4h.1M596.6 527.9h.1M594.9 531h.1M595.3 534.5h.1M596 547.2h.1M595 550.6h.1M598 523.6h.1M599.5 536.1h.1M600.7 548.2h.1M602 540.3h.1M601.3 550.7h.1M607.2 541.9h.1M606.2 556.2h.1M609.6 531.1h.1M612.4 538h.1M611.1 545h.1M610.2 545.4h.1M611 555h.1M615.4 525.4h.1M616.7 531.1h.1M615.6 534.7h.1M615.1 548.8h.1M258.9 664.3h.1M269.4 666.2h.1M270.1 664.8h.1M274.8 652.1h.1M276 662.4h.1M277.4 666.2h.1M279.4 663h.1M369.3 649.3h.1M370.1 654.6h.1M369.3 666.3h.1M368.7 670.3h.1M369.7 673.1h.1M372.2 649.1h.1M376 649.6h.1M375.4 658.8h.1M377.4 665.4h.1M376.4 670h.1M379.6 664.3h.1M382.1 674h.1M383.3 648.7h.1M386 655.1h.1M390.3 663h.1M392.2 653.6h.1M393 662.4h.1M391.3 666.8h.1M396.4 658.2h.1M402.3 650.7h.1M399.4 673.1h.1M471.5 641.5h.1M473.9 661.1h.1M472.9 667.2h.1M471.4 670.1h.1M476.7 645.9h.1M476.7 651.6h.1M478.5 660.2h.1M477.8 666.6h.1M476.6 675h.1M486.2 643.6h.1M485.2 645.9h.1M486.2 657.9h.1M483.1 662.3h.1M484 672.6h.1M489.4 643h.1M487.7 652h.1M487.8 658.7h.1M493.9 656.1h.1M495 665.3h.1M497.9 646.9h.1M499.2 649.7h.1M497.7 670.6h.1M496.5 674.7h.1M590.6 661.8h.1M594 671h.1M599.8 659.8h.1M596.4 666.4h.1M604.1 667.6h.1M606.9 659.1h.1M605.4 660.2h.1M612.7 654.8h.1M612.3 670.7h.1" stroke="#111" stroke-width="1.55" stroke-linecap="round" fill="none"/>
<path d="M246.4 122.5H292.8M266.5 103.1V141.8" stroke="#939393" stroke-width="1.15" fill="none"/>
<rect x="262.5" y="119.1" width="13.6" height="6.7" fill="url(#cg)" stroke="#7a1414" stroke-width="0.6"/>
<text x="280.8" y="115.6" font-family="Liberation Serif,serif" font-size="7.6" fill="#3c3c96" text-anchor="middle">F4</text>
<path d="M296.8 108.8V136.1M292.2 108.8H297.2M292.2 136.1H297.2M292.2 122.5H297.2M306.1 108.8V136.1M301.5 108.8H306.5M301.5 136.1H306.5" stroke="#0c0c0c" stroke-width="1.2" fill="none"/>
<text transform="translate(294.4,115.7) rotate(-90)" font-family="Liberation Serif,serif" font-weight="bold" font-size="5.6" fill="#111" text-anchor="middle">0.6</text>
<text transform="translate(294.4,129.3) rotate(-90)" font-family="Liberation Serif,serif" font-weight="bold" font-size="5.6" fill="#111" text-anchor="middle">0.6</text>
<text transform="translate(303.7,122.4) rotate(-90)" font-family="Liberation Serif,serif" font-weight="bold" font-size="5.6" fill="#111" text-anchor="middle">1.2</text>
<path d="M252.3 146.7H286.7M252.3 141.7V147.2M286.7 141.7V147.2M266.5 141.7V147.2M252.3 156.2H286.7M252.3 151.2V156.7M286.7 151.2V156.7" stroke="#0c0c0c" stroke-width="1.2" fill="none"/>
<text x="259.4" y="144.2" font-family="Liberation Serif,serif" font-weight="bold" font-size="5.6" fill="#111" text-anchor="middle">0.6</text>
<text x="276.6" y="144.2" font-family="Liberation Serif,serif" font-weight="bold" font-size="5.6" fill="#111" text-anchor="middle">0.9</text>
<text x="269.5" y="153.7" font-family="Liberation Serif,serif" font-weight="bold" font-size="5.6" fill="#111" text-anchor="middle">1.5</text>
<path d="M359.5 122.5H405M384.5 103.1V141.8" stroke="#939393" stroke-width="1.15" fill="none"/>
<rect x="375.7" y="119.1" width="12.5" height="6.7" fill="url(#cg)" stroke="#7a1414" stroke-width="0.6"/>
<text x="393" y="115.6" font-family="Liberation Serif,serif" font-size="7.6" fill="#3c3c96" text-anchor="middle">F4</text>
<path d="M408.9 108.8V136.1M404.3 108.8H409.3M404.3 136.1H409.3M404.3 122.5H409.3M419.4 108.8V136.1M414.8 108.8H419.8M414.8 136.1H419.8" stroke="#0c0c0c" stroke-width="1.2" fill="none"/>
<text transform="translate(406.5,115.7) rotate(-90)" font-family="Liberation Serif,serif" font-weight="bold" font-size="5.6" fill="#111" text-anchor="middle">0.6</text>
<text transform="translate(406.5,129.3) rotate(-90)" font-family="Liberation Serif,serif" font-weight="bold" font-size="5.6" fill="#111" text-anchor="middle">0.6</text>
<text transform="translate(417,122.4) rotate(-90)" font-family="Liberation Serif,serif" font-weight="bold" font-size="5.6" fill="#111" text-anchor="middle">1.2</text>
<path d="M365 146.7H399.2M365 141.7V147.2M399.2 141.7V147.2M384.5 141.7V147.2M365 156.2H399.2M365 151.2V156.7M399.2 151.2V156.7" stroke="#0c0c0c" stroke-width="1.2" fill="none"/>
<text x="374.8" y="144.2" font-family="Liberation Serif,serif" font-weight="bold" font-size="5.6" fill="#111" text-anchor="middle">0.9</text>
<text x="391.9" y="144.2" font-family="Liberation Serif,serif" font-weight="bold" font-size="5.6" fill="#111" text-anchor="middle">0.6</text>
<text x="382.1" y="153.7" font-family="Liberation Serif,serif" font-weight="bold" font-size="5.6" fill="#111" text-anchor="middle">1.5</text>
<path d="M465 122.5H511M484.7 103.1V141.8" stroke="#939393" stroke-width="1.15" fill="none"/>
<rect x="482" y="119.1" width="12.5" height="6.7" fill="url(#cg)" stroke="#7a1414" stroke-width="0.6"/>
<text x="499" y="115.6" font-family="Liberation Serif,serif" font-size="7.6" fill="#3c3c96" text-anchor="middle">F4</text>
<path d="M471 146.7H505.5M471 141.7V147.2M505.5 141.7V147.2M484.7 141.7V147.2M471 156.2H505.5M471 151.2V156.7M505.5 151.2V156.7" stroke="#0c0c0c" stroke-width="1.2" fill="none"/>
<text x="477.9" y="144.2" font-family="Liberation Serif,serif" font-weight="bold" font-size="5.6" fill="#111" text-anchor="middle">0.6</text>
<text x="495.1" y="144.2" font-family="Liberation Serif,serif" font-weight="bold" font-size="5.6" fill="#111" text-anchor="middle">0.9</text>
<text x="488.2" y="153.7" font-family="Liberation Serif,serif" font-weight="bold" font-size="5.6" fill="#111" text-anchor="middle">1.5</text>
<path d="M577 122.5H623.5M603 102.2V141.2" stroke="#939393" stroke-width="1.15" fill="none"/>
<rect x="593.7" y="119.1" width="12.3" height="6.7" fill="url(#cg)" stroke="#7a1414" stroke-width="0.6"/>
<text x="611.5" y="114.7" font-family="Liberation Serif,serif" font-size="7.6" fill="#3c3c96" text-anchor="middle">F4</text>
<path d="M575 107.8V135.6M579.6 107.8H574.6M579.6 135.6H574.6M579.6 122.5H574.6M562.5 107.8V135.6M567.1 107.8H562.1M567.1 135.6H562.1" stroke="#0c0c0c" stroke-width="1.2" fill="none"/>
<text transform="translate(572.6,115.2) rotate(-90)" font-family="Liberation Serif,serif" font-weight="bold" font-size="5.6" fill="#111" text-anchor="middle">0.6</text>
<text transform="translate(572.6,129.1) rotate(-90)" font-family="Liberation Serif,serif" font-weight="bold" font-size="5.6" fill="#111" text-anchor="middle">0.6</text>
<text transform="translate(560.1,121.7) rotate(-90)" font-family="Liberation Serif,serif" font-weight="bold" font-size="5.6" fill="#111" text-anchor="middle">1.2</text>
<path d="M583.2 146.7H618M583.2 141.7V147.2M618 141.7V147.2M603 141.7V147.2M583.2 156.2H618M583.2 151.2V156.7M618 151.2V156.7" stroke="#0c0c0c" stroke-width="1.2" fill="none"/>
<text x="593.1" y="144.2" font-family="Liberation Serif,serif" font-weight="bold" font-size="5.6" fill="#111" text-anchor="middle">0.9</text>
<text x="610.5" y="144.2" font-family="Liberation Serif,serif" font-weight="bold" font-size="5.6" fill="#111" text-anchor="middle">0.6</text>
<text x="600.6" y="153.7" font-family="Liberation Serif,serif" font-weight="bold" font-size="5.6" fill="#111" text-anchor="middle">1.5</text>
<path d="M361.2 217.5H408.7M384.5 187V241.2" stroke="#939393" stroke-width="1.15" fill="none"/>
<rect x="381.7" y="207.5" width="7" height="12.5" fill="url(#cg)" stroke="#7a1414" stroke-width="0.6"/>
<text x="396.7" y="199.5" font-family="Liberation Serif,serif" font-size="7.6" fill="#3c3c96" text-anchor="middle">F2</text>
<path d="M415 192.5V235.7M410.4 192.5H415.4M410.4 235.7H415.4M410.4 217.5H415.4M425 192.5V235.7M420.4 192.5H425.4M420.4 235.7H425.4" stroke="#0c0c0c" stroke-width="1.2" fill="none"/>
<text transform="translate(412.6,205) rotate(-90)" font-family="Liberation Serif,serif" font-weight="bold" font-size="5.6" fill="#111" text-anchor="middle">1.1</text>
<text transform="translate(412.6,226.6) rotate(-90)" font-family="Liberation Serif,serif" font-weight="bold" font-size="5.6" fill="#111" text-anchor="middle">0.8</text>
<text transform="translate(422.6,214.1) rotate(-90)" font-family="Liberation Serif,serif" font-weight="bold" font-size="5.6" fill="#111" text-anchor="middle">1.9</text>
<path d="M366.7 185H403.2M366.7 180V185.5M403.2 180V185.5M384.5 180V185.5M366.7 177H403.2M366.7 172V177.5M403.2 172V177.5" stroke="#0c0c0c" stroke-width="1.2" fill="none"/>
<text x="375.6" y="182.5" font-family="Liberation Serif,serif" font-weight="bold" font-size="5.6" fill="#111" text-anchor="middle">0.8</text>
<text x="393.9" y="182.5" font-family="Liberation Serif,serif" font-weight="bold" font-size="5.6" fill="#111" text-anchor="middle">0.8</text>
<text x="384.9" y="174.5" font-family="Liberation Serif,serif" font-weight="bold" font-size="5.6" fill="#111" text-anchor="middle">1.6</text>
<path d="M463 217.5H513.5M484.7 196V239" stroke="#939393" stroke-width="1.15" fill="none"/>
<rect x="482" y="214" width="13" height="6.7" fill="url(#cg)" stroke="#7a1414" stroke-width="0.6"/>
<text x="501.5" y="208.5" font-family="Liberation Serif,serif" font-size="7.6" fill="#3c3c96" text-anchor="middle">F3</text>
<path d="M516.7 201V233.7M512.1 201H517.1M512.1 233.7H517.1M512.1 217.5H517.1M530 201V233.7M525.4 201H530.4M525.4 233.7H530.4" stroke="#0c0c0c" stroke-width="1.2" fill="none"/>
<text transform="translate(514.3,209.2) rotate(-90)" font-family="Liberation Serif,serif" font-weight="bold" font-size="5.6" fill="#111" text-anchor="middle">0.7</text>
<text transform="translate(514.3,225.6) rotate(-90)" font-family="Liberation Serif,serif" font-weight="bold" font-size="5.6" fill="#111" text-anchor="middle">0.7</text>
<text transform="translate(527.6,217.3) rotate(-90)" font-family="Liberation Serif,serif" font-weight="bold" font-size="5.6" fill="#111" text-anchor="middle">1.4</text>
<path d="M245 263.5H288.5M245 274.5H288.5M266.5 235.2V285" stroke="#939393" stroke-width="1.15" fill="none"/>
<rect x="263" y="254.2" width="7" height="11.5" fill="url(#cg)" stroke="#7a1414" stroke-width="0.6"/>
<text x="276.5" y="247.7" font-family="Liberation Serif,serif" font-size="7.6" fill="#3c3c96" text-anchor="middle">F3</text>
<path d="M292.5 240.7V279.2M287.9 240.7H292.9M287.9 279.2H292.9M287.9 263.5H292.9M302.5 240.7V279.2M297.9 240.7H302.9M297.9 279.2H302.9" stroke="#0c0c0c" stroke-width="1.2" fill="none"/>
<text transform="translate(290.1,252.1) rotate(-90)" font-family="Liberation Serif,serif" font-weight="bold" font-size="5.6" fill="#111" text-anchor="middle">0.9</text>
<text transform="translate(290.1,271.4) rotate(-90)" font-family="Liberation Serif,serif" font-weight="bold" font-size="5.6" fill="#111" text-anchor="middle">0.9</text>
<text transform="translate(300.1,259.9) rotate(-90)" font-family="Liberation Serif,serif" font-weight="bold" font-size="5.6" fill="#111" text-anchor="middle">1.7</text>
<path d="M250.5 290.7H283M250.5 285.7V291.2M283 285.7V291.2M266.5 285.7V291.2M250.5 298.7H283M250.5 293.7V299.2M283 293.7V299.2" stroke="#0c0c0c" stroke-width="1.2" fill="none"/>
<text x="258.5" y="288.2" font-family="Liberation Serif,serif" font-weight="bold" font-size="5.6" fill="#111" text-anchor="middle">0.7</text>
<text x="274.8" y="288.2" font-family="Liberation Serif,serif" font-weight="bold" font-size="5.6" fill="#111" text-anchor="middle">0.7</text>
<text x="266.8" y="296.2" font-family="Liberation Serif,serif" font-weight="bold" font-size="5.6" fill="#111" text-anchor="middle">1.4</text>
<path d="M363.2 263.5H406.7M363.2 274.5H406.7M384.5 252V302.5" stroke="#939393" stroke-width="1.15" fill="none"/>
<rect x="381.7" y="271.2" width="7" height="12" fill="url(#cg)" stroke="#7a1414" stroke-width="0.6"/>
<text x="394.7" y="264.5" font-family="Liberation Serif,serif" font-size="7.6" fill="#3c3c96" text-anchor="middle">F3</text>
<path d="M412.5 258V297M407.9 258H412.9M407.9 297H412.9M407.9 274.5H412.9M423.2 258V297M418.6 258H423.6M418.6 297H423.6" stroke="#0c0c0c" stroke-width="1.2" fill="none"/>
<text transform="translate(410.1,266.2) rotate(-90)" font-family="Liberation Serif,serif" font-weight="bold" font-size="5.6" fill="#111" text-anchor="middle">0.9</text>
<text transform="translate(410.1,285.8) rotate(-90)" font-family="Liberation Serif,serif" font-weight="bold" font-size="5.6" fill="#111" text-anchor="middle">0.9</text>
<text transform="translate(420.8,277.5) rotate(-90)" font-family="Liberation Serif,serif" font-weight="bold" font-size="5.6" fill="#111" text-anchor="middle">1.7</text>
<path d="M368.7 308.2H401.2M368.7 303.2V308.7M401.2 303.2V308.7M384.5 303.2V308.7" stroke="#0c0c0c" stroke-width="1.2" fill="none"/>
<text x="376.6" y="305.7" font-family="Liberation Serif,serif" font-weight="bold" font-size="5.6" fill="#111" text-anchor="middle">0.7</text>
<text x="392.9" y="305.7" font-family="Liberation Serif,serif" font-weight="bold" font-size="5.6" fill="#111" text-anchor="middle">0.7</text>
<path d="M461 263.5H516M461 274.5H516M484.7 250.7V298.5" stroke="#939393" stroke-width="1.15" fill="none"/>
<rect x="482" y="271" width="13" height="6.5" fill="url(#cg)" stroke="#7a1414" stroke-width="0.6"/>
<text x="504" y="263.2" font-family="Liberation Serif,serif" font-size="7.6" fill="#3c3c96" text-anchor="middle">F2</text>
<path d="M519.5 256V292.5M514.9 256H519.9M514.9 292.5H519.9M514.9 274.5H519.9M528.7 256V292.5M524.1 256H529.1M524.1 292.5H529.1" stroke="#0c0c0c" stroke-width="1.2" fill="none"/>
<text transform="translate(517.1,265.2) rotate(-90)" font-family="Liberation Serif,serif" font-weight="bold" font-size="5.6" fill="#111" text-anchor="middle">0.8</text>
<text transform="translate(517.1,283.5) rotate(-90)" font-family="Liberation Serif,serif" font-weight="bold" font-size="5.6" fill="#111" text-anchor="middle">0.8</text>
<text transform="translate(526.3,274.2) rotate(-90)" font-family="Liberation Serif,serif" font-weight="bold" font-size="5.6" fill="#111" text-anchor="middle">1.6</text>
<path d="M466 304H510.7M466 299V304.5M510.7 299V304.5M484.7 299V304.5M466 313H510.7M466 308V313.5M510.7 308V313.5" stroke="#0c0c0c" stroke-width="1.2" fill="none"/>
<text x="475.4" y="301.5" font-family="Liberation Serif,serif" font-weight="bold" font-size="5.6" fill="#111" text-anchor="middle">0.8</text>
<text x="497.7" y="301.5" font-family="Liberation Serif,serif" font-weight="bold" font-size="5.6" fill="#111" text-anchor="middle">1.1</text>
<text x="488.4" y="310.5" font-family="Liberation Serif,serif" font-weight="bold" font-size="5.6" fill="#111" text-anchor="middle">1.9</text>
<path d="M581.5 263.5H624.7M581.5 274.5H624.7M603 247V296.7" stroke="#939393" stroke-width="1.15" fill="none"/>
<rect x="600" y="265" width="7" height="12.5" fill="url(#cg)" stroke="#7a1414" stroke-width="0.6"/>
<text x="612.7" y="259.5" font-family="Liberation Serif,serif" font-size="7.6" fill="#3c3c96" text-anchor="middle">F3</text>
<path d="M630.5 253V290.7M625.9 253H630.9M625.9 290.7H630.9M625.9 274.5H630.9M640.7 253V290.7M636.1 253H641.1M636.1 290.7H641.1" stroke="#0c0c0c" stroke-width="1.2" fill="none"/>
<text transform="translate(628.1,263.8) rotate(-90)" font-family="Liberation Serif,serif" font-weight="bold" font-size="5.6" fill="#111" text-anchor="middle">1.0</text>
<text transform="translate(628.1,282.6) rotate(-90)" font-family="Liberation Serif,serif" font-weight="bold" font-size="5.6" fill="#111" text-anchor="middle">0.7</text>
<text transform="translate(638.3,271.9) rotate(-90)" font-family="Liberation Serif,serif" font-weight="bold" font-size="5.6" fill="#111" text-anchor="middle">1.7</text>
<path d="M587.5 304H619M587.5 299V304.5M619 299V304.5M603 299V304.5M587.5 313H619M587.5 308V313.5M619 308V313.5" stroke="#0c0c0c" stroke-width="1.2" fill="none"/>
<text x="595.2" y="301.5" font-family="Liberation Serif,serif" font-weight="bold" font-size="5.6" fill="#111" text-anchor="middle">0.7</text>
<text x="611" y="301.5" font-family="Liberation Serif,serif" font-weight="bold" font-size="5.6" fill="#111" text-anchor="middle">0.7</text>
<text x="603.2" y="310.5" font-family="Liberation Serif,serif" font-weight="bold" font-size="5.6" fill="#111" text-anchor="middle">1.4</text>
<path d="M242.5 358.5H296.7M266.5 335.2V382.5" stroke="#939393" stroke-width="1.15" fill="none"/>
<rect x="263" y="355" width="12.7" height="7" fill="url(#cg)" stroke="#7a1414" stroke-width="0.6"/>
<text x="284.7" y="347.7" font-family="Liberation Serif,serif" font-size="7.6" fill="#3c3c96" text-anchor="middle">F2</text>
<path d="M301.7 340.7V376.7M297.1 340.7H302.1M297.1 376.7H302.1M297.1 358.5H302.1M311.2 340.7V376.7M306.6 340.7H311.6M306.6 376.7H311.6" stroke="#0c0c0c" stroke-width="1.2" fill="none"/>
<text transform="translate(299.3,349.6) rotate(-90)" font-family="Liberation Serif,serif" font-weight="bold" font-size="5.6" fill="#111" text-anchor="middle">0.8</text>
<text transform="translate(299.3,367.6) rotate(-90)" font-family="Liberation Serif,serif" font-weight="bold" font-size="5.6" fill="#111" text-anchor="middle">0.8</text>
<text transform="translate(308.8,358.7) rotate(-90)" font-family="Liberation Serif,serif" font-weight="bold" font-size="5.6" fill="#111" text-anchor="middle">1.6</text>
<path d="M355 358.5H409.7M384.5 335.2V382.5" stroke="#939393" stroke-width="1.15" fill="none"/>
<rect x="375.7" y="355" width="12.5" height="7" fill="url(#cg)" stroke="#7a1414" stroke-width="0.6"/>
<text x="397.7" y="347.7" font-family="Liberation Serif,serif" font-size="7.6" fill="#3c3c96" text-anchor="middle">F2</text>
<path d="M415 340.7V376.7M410.4 340.7H415.4M410.4 376.7H415.4M410.4 358.5H415.4M425 340.7V376.7M420.4 340.7H425.4M420.4 376.7H425.4" stroke="#0c0c0c" stroke-width="1.2" fill="none"/>
<text transform="translate(412.6,349.6) rotate(-90)" font-family="Liberation Serif,serif" font-weight="bold" font-size="5.6" fill="#111" text-anchor="middle">0.8</text>
<text transform="translate(412.6,367.6) rotate(-90)" font-family="Liberation Serif,serif" font-weight="bold" font-size="5.6" fill="#111" text-anchor="middle">0.8</text>
<text transform="translate(422.6,358.7) rotate(-90)" font-family="Liberation Serif,serif" font-weight="bold" font-size="5.6" fill="#111" text-anchor="middle">1.6</text>
<path d="M360 332H404.2M360 327V332.5M404.2 327V332.5M384.5 327V332.5M360 323.7H404.2M360 318.7V324.2M404.2 318.7V324.2" stroke="#0c0c0c" stroke-width="1.2" fill="none"/>
<text x="372.2" y="329.5" font-family="Liberation Serif,serif" font-weight="bold" font-size="5.6" fill="#111" text-anchor="middle">1.1</text>
<text x="394.4" y="329.5" font-family="Liberation Serif,serif" font-weight="bold" font-size="5.6" fill="#111" text-anchor="middle">0.8</text>
<text x="382.1" y="321.2" font-family="Liberation Serif,serif" font-weight="bold" font-size="5.6" fill="#111" text-anchor="middle">1.9</text>
<path d="M242.5 406.5H296.7M242.5 418.5H296.7M266.5 394.5V441.7" stroke="#939393" stroke-width="1.15" fill="none"/>
<rect x="263" y="415" width="12.7" height="6.7" fill="url(#cg)" stroke="#7a1414" stroke-width="0.6"/>
<text x="284.7" y="407" font-family="Liberation Serif,serif" font-size="7.6" fill="#3c3c96" text-anchor="middle">F2</text>
<path d="M301.7 400V436.2M297.1 400H302.1M297.1 436.2H302.1M297.1 418.5H302.1M311.2 400V436.2M306.6 400H311.6M306.6 436.2H311.6" stroke="#0c0c0c" stroke-width="1.2" fill="none"/>
<text transform="translate(299.3,409.2) rotate(-90)" font-family="Liberation Serif,serif" font-weight="bold" font-size="5.6" fill="#111" text-anchor="middle">0.8</text>
<text transform="translate(299.3,427.4) rotate(-90)" font-family="Liberation Serif,serif" font-weight="bold" font-size="5.6" fill="#111" text-anchor="middle">0.8</text>
<text transform="translate(308.8,418.1) rotate(-90)" font-family="Liberation Serif,serif" font-weight="bold" font-size="5.6" fill="#111" text-anchor="middle">1.6</text>
<path d="M248 447.5H291.2M248 442.5V448M291.2 442.5V448M266.5 442.5V448M248 455.7H291.2M248 450.7V456.2M291.2 450.7V456.2" stroke="#0c0c0c" stroke-width="1.2" fill="none"/>
<text x="257.2" y="445" font-family="Liberation Serif,serif" font-weight="bold" font-size="5.6" fill="#111" text-anchor="middle">0.8</text>
<text x="278.9" y="445" font-family="Liberation Serif,serif" font-weight="bold" font-size="5.6" fill="#111" text-anchor="middle">1.1</text>
<text x="269.6" y="453.2" font-family="Liberation Serif,serif" font-weight="bold" font-size="5.6" fill="#111" text-anchor="middle">1.9</text>
<path d="M355 406.5H409.7M355 418.5H409.7M384.5 394.5V441.7" stroke="#939393" stroke-width="1.15" fill="none"/>
<rect x="375.7" y="415" width="12.5" height="6.7" fill="url(#cg)" stroke="#7a1414" stroke-width="0.6"/>
<text x="397.7" y="407" font-family="Liberation Serif,serif" font-size="7.6" fill="#3c3c96" text-anchor="middle">F2</text>
<path d="M415 400V436.2M410.4 400H415.4M410.4 436.2H415.4M410.4 418.5H415.4M425 400V436.2M420.4 400H425.4M420.4 436.2H425.4" stroke="#0c0c0c" stroke-width="1.2" fill="none"/>
<text transform="translate(412.6,409.2) rotate(-90)" font-family="Liberation Serif,serif" font-weight="bold" font-size="5.6" fill="#111" text-anchor="middle">0.8</text>
<text transform="translate(412.6,427.4) rotate(-90)" font-family="Liberation Serif,serif" font-weight="bold" font-size="5.6" fill="#111" text-anchor="middle">0.8</text>
<text transform="translate(422.6,418.1) rotate(-90)" font-family="Liberation Serif,serif" font-weight="bold" font-size="5.6" fill="#111" text-anchor="middle">1.6</text>
<path d="M360.5 447.5H404.2M360.5 442.5V448M404.2 442.5V448M384.5 442.5V448M360.5 455.7H404.2M360.5 450.7V456.2M404.2 450.7V456.2" stroke="#0c0c0c" stroke-width="1.2" fill="none"/>
<text x="372.5" y="445" font-family="Liberation Serif,serif" font-weight="bold" font-size="5.6" fill="#111" text-anchor="middle">1.1</text>
<text x="394.4" y="445" font-family="Liberation Serif,serif" font-weight="bold" font-size="5.6" fill="#111" text-anchor="middle">0.8</text>
<text x="382.4" y="453.2" font-family="Liberation Serif,serif" font-weight="bold" font-size="5.6" fill="#111" text-anchor="middle">1.9</text>
<path d="M458 406.5H519M458 418.5H519M484.7 380.7V431.7" stroke="#939393" stroke-width="1.15" fill="none"/>
<rect x="482" y="403" width="14" height="7" fill="url(#cg)" stroke="#7a1414" stroke-width="0.6"/>
<text x="507" y="393.2" font-family="Liberation Serif,serif" font-size="7.6" fill="#3c3c96" text-anchor="middle">F1</text>
<path d="M523.7 385.7V427M519.1 385.7H524.1M519.1 427H524.1M519.1 406.5H524.1M535 385.7V427M530.4 385.7H535.4M530.4 427H535.4" stroke="#0c0c0c" stroke-width="1.2" fill="none"/>
<text transform="translate(521.3,396.1) rotate(-90)" font-family="Liberation Serif,serif" font-weight="bold" font-size="5.6" fill="#111" text-anchor="middle">0.9</text>
<text transform="translate(521.3,416.8) rotate(-90)" font-family="Liberation Serif,serif" font-weight="bold" font-size="5.6" fill="#111" text-anchor="middle">0.9</text>
<text transform="translate(532.6,406.4) rotate(-90)" font-family="Liberation Serif,serif" font-weight="bold" font-size="5.6" fill="#111" text-anchor="middle">1.8</text>
<path d="M463 434H514M463 429V434.5M514 429V434.5M484.7 429V434.5M463 446H514M463 441V446.5M514 441V446.5" stroke="#0c0c0c" stroke-width="1.2" fill="none"/>
<text x="473.9" y="431.5" font-family="Liberation Serif,serif" font-weight="bold" font-size="5.6" fill="#111" text-anchor="middle">0.9</text>
<text x="499.4" y="431.5" font-family="Liberation Serif,serif" font-weight="bold" font-size="5.6" fill="#111" text-anchor="middle">1.3</text>
<text x="488.5" y="443.5" font-family="Liberation Serif,serif" font-weight="bold" font-size="5.6" fill="#111" text-anchor="middle">2.2</text>
<path d="M581.5 406.5H624.7M581.5 418.5H624.7M603 379.5V428.5" stroke="#939393" stroke-width="1.15" fill="none"/>
<rect x="600" y="398" width="7" height="11" fill="url(#cg)" stroke="#7a1414" stroke-width="0.6"/>
<text x="612.7" y="392" font-family="Liberation Serif,serif" font-size="7.6" fill="#3c3c96" text-anchor="middle">F3</text>
<path d="M581 384.5V423M585.6 384.5H580.6M585.6 423H580.6M585.6 406.5H580.6M570.5 384.5V423M575.1 384.5H570.1M575.1 423H570.1" stroke="#0c0c0c" stroke-width="1.2" fill="none"/>
<text transform="translate(578.6,395.5) rotate(-90)" font-family="Liberation Serif,serif" font-weight="bold" font-size="5.6" fill="#111" text-anchor="middle">0.9</text>
<text transform="translate(578.6,414.8) rotate(-90)" font-family="Liberation Serif,serif" font-weight="bold" font-size="5.6" fill="#111" text-anchor="middle">0.9</text>
<text transform="translate(568.1,403.8) rotate(-90)" font-family="Liberation Serif,serif" font-weight="bold" font-size="5.6" fill="#111" text-anchor="middle">1.7</text>
<path d="M587.5 434H619.5M587.5 429V434.5M619.5 429V434.5M603 429V434.5M587.5 443H619.5M587.5 438V443.5M619.5 438V443.5" stroke="#0c0c0c" stroke-width="1.2" fill="none"/>
<text x="595.2" y="431.5" font-family="Liberation Serif,serif" font-weight="bold" font-size="5.6" fill="#111" text-anchor="middle">0.7</text>
<text x="611.2" y="431.5" font-family="Liberation Serif,serif" font-weight="bold" font-size="5.6" fill="#111" text-anchor="middle">0.7</text>
<text x="603.5" y="440.5" font-family="Liberation Serif,serif" font-weight="bold" font-size="5.6" fill="#111" text-anchor="middle">1.4</text>
<path d="M242.5 536.5H296.7M266.5 512.5V560.5" stroke="#939393" stroke-width="1.15" fill="none"/>
<rect x="263" y="533" width="13.7" height="7" fill="url(#cg)" stroke="#7a1414" stroke-width="0.6"/>
<text x="284.7" y="525" font-family="Liberation Serif,serif" font-size="7.6" fill="#3c3c96" text-anchor="middle">F2</text>
<path d="M301.7 518V554.2M297.1 518H302.1M297.1 554.2H302.1M297.1 536.5H302.1M311.2 518V554.2M306.6 518H311.6M306.6 554.2H311.6" stroke="#0c0c0c" stroke-width="1.2" fill="none"/>
<text transform="translate(299.3,527.2) rotate(-90)" font-family="Liberation Serif,serif" font-weight="bold" font-size="5.6" fill="#111" text-anchor="middle">0.8</text>
<text transform="translate(299.3,545.4) rotate(-90)" font-family="Liberation Serif,serif" font-weight="bold" font-size="5.6" fill="#111" text-anchor="middle">0.8</text>
<text transform="translate(308.8,536.1) rotate(-90)" font-family="Liberation Serif,serif" font-weight="bold" font-size="5.6" fill="#111" text-anchor="middle">1.6</text>
<path d="M248 567.5H291.2M248 562.5V568M291.2 562.5V568M266.5 562.5V568M248 577H291.2M248 572V577.5M291.2 572V577.5" stroke="#0c0c0c" stroke-width="1.2" fill="none"/>
<text x="257.2" y="565" font-family="Liberation Serif,serif" font-weight="bold" font-size="5.6" fill="#111" text-anchor="middle">0.8</text>
<text x="278.9" y="565" font-family="Liberation Serif,serif" font-weight="bold" font-size="5.6" fill="#111" text-anchor="middle">1.1</text>
<text x="269.6" y="574.5" font-family="Liberation Serif,serif" font-weight="bold" font-size="5.6" fill="#111" text-anchor="middle">1.9</text>
<path d="M331.2 536.5H393M357.5 510.5V562.5M384.5 510.5V562.5" stroke="#939393" stroke-width="1.15" fill="none"/>
<rect x="355" y="533" width="14.5" height="7" fill="url(#cg)" stroke="#7a1414" stroke-width="0.6"/>
<text x="381" y="523" font-family="Liberation Serif,serif" font-size="7.6" fill="#3c3c96" text-anchor="middle">F1</text>
<path d="M398 515.5V557M393.4 515.5H398.4M393.4 557H398.4M393.4 536.5H398.4M408 515.5V557M403.4 515.5H408.4M403.4 557H408.4" stroke="#0c0c0c" stroke-width="1.2" fill="none"/>
<text transform="translate(395.6,526) rotate(-90)" font-family="Liberation Serif,serif" font-weight="bold" font-size="5.6" fill="#111" text-anchor="middle">0.9</text>
<text transform="translate(395.6,546.8) rotate(-90)" font-family="Liberation Serif,serif" font-weight="bold" font-size="5.6" fill="#111" text-anchor="middle">0.9</text>
<text transform="translate(405.6,536.2) rotate(-90)" font-family="Liberation Serif,serif" font-weight="bold" font-size="5.6" fill="#111" text-anchor="middle">1.8</text>
<path d="M337 567.5H387.5M337 562.5V568M387.5 562.5V568M357.5 562.5V568M337 575H387.5M337 570V575.5M387.5 570V575.5" stroke="#0c0c0c" stroke-width="1.2" fill="none"/>
<text x="347.2" y="565" font-family="Liberation Serif,serif" font-weight="bold" font-size="5.6" fill="#111" text-anchor="middle">1.1</text>
<text x="372.5" y="565" font-family="Liberation Serif,serif" font-weight="bold" font-size="5.6" fill="#111" text-anchor="middle">1.1</text>
<text x="362.2" y="572.5" font-family="Liberation Serif,serif" font-weight="bold" font-size="5.6" fill="#111" text-anchor="middle">2.2</text>
<path d="M458.7 536.5H511.2M484.7 510.2V572.2" stroke="#939393" stroke-width="1.15" fill="none"/>
<rect x="481" y="533" width="7.7" height="16.5" fill="url(#cg)" stroke="#7a1414" stroke-width="0.6"/>
<text x="499.2" y="522.7" font-family="Liberation Serif,serif" font-size="7.6" fill="#3c3c96" text-anchor="middle">F1</text>
<path d="M515.7 515.7V566M511.1 515.7H516.1M511.1 566H516.1M511.1 536.5H516.1M526 515.7V566M521.4 515.7H526.4M521.4 566H526.4" stroke="#0c0c0c" stroke-width="1.2" fill="none"/>
<text transform="translate(513.3,526.1) rotate(-90)" font-family="Liberation Serif,serif" font-weight="bold" font-size="5.6" fill="#111" text-anchor="middle">0.9</text>
<text transform="translate(513.3,551.2) rotate(-90)" font-family="Liberation Serif,serif" font-weight="bold" font-size="5.6" fill="#111" text-anchor="middle">1.3</text>
<text transform="translate(523.6,540.9) rotate(-90)" font-family="Liberation Serif,serif" font-weight="bold" font-size="5.6" fill="#111" text-anchor="middle">2.2</text>
<path d="M464.5 576H505.5M464.5 571V576.5M505.5 571V576.5M484.7 571V576.5M464.5 586.7H505.5M464.5 581.7V587.2M505.5 581.7V587.2" stroke="#0c0c0c" stroke-width="1.2" fill="none"/>
<text x="474.6" y="573.5" font-family="Liberation Serif,serif" font-weight="bold" font-size="5.6" fill="#111" text-anchor="middle">0.9</text>
<text x="495.1" y="573.5" font-family="Liberation Serif,serif" font-weight="bold" font-size="5.6" fill="#111" text-anchor="middle">0.9</text>
<text x="485" y="584.2" font-family="Liberation Serif,serif" font-weight="bold" font-size="5.6" fill="#111" text-anchor="middle">1.8</text>
<path d="M581.5 536.5H624.7M603 514.5V564.2" stroke="#939393" stroke-width="1.15" fill="none"/>
<rect x="600" y="533" width="7" height="12" fill="url(#cg)" stroke="#7a1414" stroke-width="0.6"/>
<text x="612.7" y="527" font-family="Liberation Serif,serif" font-size="7.6" fill="#3c3c96" text-anchor="middle">F3</text>
<path d="M580 519.5V558M584.6 519.5H579.6M584.6 558H579.6M584.6 536.5H579.6M570 519.5V558M574.6 519.5H569.6M574.6 558H569.6" stroke="#0c0c0c" stroke-width="1.2" fill="none"/>
<text transform="translate(577.6,528) rotate(-90)" font-family="Liberation Serif,serif" font-weight="bold" font-size="5.6" fill="#111" text-anchor="middle">0.7</text>
<text transform="translate(577.6,547.2) rotate(-90)" font-family="Liberation Serif,serif" font-weight="bold" font-size="5.6" fill="#111" text-anchor="middle">1.0</text>
<text transform="translate(567.6,538.8) rotate(-90)" font-family="Liberation Serif,serif" font-weight="bold" font-size="5.6" fill="#111" text-anchor="middle">1.7</text>
<path d="M587.5 568.7H619.5M587.5 563.7V569.2M619.5 563.7V569.2M603 563.7V569.2M587.5 578H619.5M587.5 573V578.5M619.5 573V578.5" stroke="#0c0c0c" stroke-width="1.2" fill="none"/>
<text x="595.2" y="566.2" font-family="Liberation Serif,serif" font-weight="bold" font-size="5.6" fill="#111" text-anchor="middle">0.7</text>
<text x="611.2" y="566.2" font-family="Liberation Serif,serif" font-weight="bold" font-size="5.6" fill="#111" text-anchor="middle">0.7</text>
<text x="603.5" y="575.5" font-family="Liberation Serif,serif" font-weight="bold" font-size="5.6" fill="#111" text-anchor="middle">1.4</text>
<path d="M249.5 661.5H290M266.5 644V678.7" stroke="#939393" stroke-width="1.15" fill="none"/>
<rect x="263" y="658" width="13" height="6" fill="url(#cg)" stroke="#7a1414" stroke-width="0.6"/>
<text x="278" y="656.5" font-family="Liberation Serif,serif" font-size="7.6" fill="#3c3c96" text-anchor="middle">F5</text>
<path d="M294.5 650V672.5M289.9 650H294.9M289.9 672.5H294.9M289.9 661.5H294.9M303 650V672.5M298.4 650H303.4M298.4 672.5H303.4" stroke="#0c0c0c" stroke-width="1.2" fill="none"/>
<text transform="translate(292.1,655.8) rotate(-90)" font-family="Liberation Serif,serif" font-weight="bold" font-size="5.6" fill="#111" text-anchor="middle">0.5</text>
<text transform="translate(292.1,667) rotate(-90)" font-family="Liberation Serif,serif" font-weight="bold" font-size="5.6" fill="#111" text-anchor="middle">0.5</text>
<text transform="translate(300.6,661.2) rotate(-90)" font-family="Liberation Serif,serif" font-weight="bold" font-size="5.6" fill="#111" text-anchor="middle">1.0</text>
<path d="M255 681H284.5M255 676V681.5M284.5 676V681.5M266.5 676V681.5M255 690H284.5M255 685V690.5M284.5 685V690.5" stroke="#0c0c0c" stroke-width="1.2" fill="none"/>
<text x="260.8" y="678.5" font-family="Liberation Serif,serif" font-weight="bold" font-size="5.6" fill="#111" text-anchor="middle">0.5</text>
<text x="275.5" y="678.5" font-family="Liberation Serif,serif" font-weight="bold" font-size="5.6" fill="#111" text-anchor="middle">0.8</text>
<text x="269.8" y="687.5" font-family="Liberation Serif,serif" font-weight="bold" font-size="5.6" fill="#111" text-anchor="middle">1.3</text>
<path d="M360 661.5H410M384.5 640V682.5" stroke="#939393" stroke-width="1.15" fill="none"/>
<rect x="378.7" y="658" width="12" height="6" fill="url(#cg)" stroke="#7a1414" stroke-width="0.6"/>
<text x="398" y="652.5" font-family="Liberation Serif,serif" font-size="7.6" fill="#3c3c96" text-anchor="middle">F3</text>
<path d="M414.5 645.5V677M409.9 645.5H414.9M409.9 677H414.9M409.9 661.5H414.9M425 645.5V677M420.4 645.5H425.4M420.4 677H425.4" stroke="#0c0c0c" stroke-width="1.2" fill="none"/>
<text transform="translate(412.1,653.5) rotate(-90)" font-family="Liberation Serif,serif" font-weight="bold" font-size="5.6" fill="#111" text-anchor="middle">0.7</text>
<text transform="translate(412.1,669.2) rotate(-90)" font-family="Liberation Serif,serif" font-weight="bold" font-size="5.6" fill="#111" text-anchor="middle">0.7</text>
<text transform="translate(422.6,661.2) rotate(-90)" font-family="Liberation Serif,serif" font-weight="bold" font-size="5.6" fill="#111" text-anchor="middle">1.4</text>
<path d="M365 685H404M365 680V685.5M404 680V685.5M384.5 680V685.5M365 695.5H404M365 690.5V696M404 690.5V696" stroke="#0c0c0c" stroke-width="1.2" fill="none"/>
<text x="374.8" y="682.5" font-family="Liberation Serif,serif" font-weight="bold" font-size="5.6" fill="#111" text-anchor="middle">0.9</text>
<text x="394.2" y="682.5" font-family="Liberation Serif,serif" font-weight="bold" font-size="5.6" fill="#111" text-anchor="middle">0.9</text>
<text x="384.5" y="693" font-family="Liberation Serif,serif" font-weight="bold" font-size="5.6" fill="#111" text-anchor="middle">1.7</text>
<path d="M463.2 661.5H506.7M484.7 633.7V683.5" stroke="#939393" stroke-width="1.15" fill="none"/>
<rect x="481" y="652" width="7.7" height="12.7" fill="url(#cg)" stroke="#7a1414" stroke-width="0.6"/>
<text x="494.7" y="646.2" font-family="Liberation Serif,serif" font-size="7.6" fill="#3c3c96" text-anchor="middle">F3</text>
<path d="M510.7 639V678M506.1 639H511.1M506.1 678H511.1M506.1 661.5H511.1M520.7 639V678M516.1 639H521.1M516.1 678H521.1" stroke="#0c0c0c" stroke-width="1.2" fill="none"/>
<text transform="translate(508.3,650.2) rotate(-90)" font-family="Liberation Serif,serif" font-weight="bold" font-size="5.6" fill="#111" text-anchor="middle">1.0</text>
<text transform="translate(508.3,669.8) rotate(-90)" font-family="Liberation Serif,serif" font-weight="bold" font-size="5.6" fill="#111" text-anchor="middle">0.7</text>
<text transform="translate(518.3,658.5) rotate(-90)" font-family="Liberation Serif,serif" font-weight="bold" font-size="5.6" fill="#111" text-anchor="middle">1.7</text>
<path d="M468.7 687H501M468.7 682V687.5M501 682V687.5M484.7 682V687.5M468.7 697.5H501M468.7 692.5V698M501 692.5V698" stroke="#0c0c0c" stroke-width="1.2" fill="none"/>
<text x="476.7" y="684.5" font-family="Liberation Serif,serif" font-weight="bold" font-size="5.6" fill="#111" text-anchor="middle">0.7</text>
<text x="492.9" y="684.5" font-family="Liberation Serif,serif" font-weight="bold" font-size="5.6" fill="#111" text-anchor="middle">0.7</text>
<text x="484.9" y="695" font-family="Liberation Serif,serif" font-weight="bold" font-size="5.6" fill="#111" text-anchor="middle">1.4</text>
<path d="M580 661.5H620.5M603 644.5V678.5" stroke="#939393" stroke-width="1.15" fill="none"/>
<rect x="594" y="658" width="12" height="6.7" fill="url(#cg)" stroke="#7a1414" stroke-width="0.6"/>
<text x="608.5" y="657" font-family="Liberation Serif,serif" font-size="7.6" fill="#3c3c96" text-anchor="middle">F5</text>
<path d="M578.7 649.7V673M583.3 649.7H578.3M583.3 673H578.3M583.3 661.5H578.3M568.7 649.7V673M573.3 649.7H568.3M573.3 673H568.3" stroke="#0c0c0c" stroke-width="1.2" fill="none"/>
<text transform="translate(576.3,655.6) rotate(-90)" font-family="Liberation Serif,serif" font-weight="bold" font-size="5.6" fill="#111" text-anchor="middle">0.5</text>
<text transform="translate(576.3,667.2) rotate(-90)" font-family="Liberation Serif,serif" font-weight="bold" font-size="5.6" fill="#111" text-anchor="middle">0.5</text>
<text transform="translate(566.3,661.4) rotate(-90)" font-family="Liberation Serif,serif" font-weight="bold" font-size="5.6" fill="#111" text-anchor="middle">1.0</text>
<path d="M585.7 684H615M585.7 679V684.5M615 679V684.5M603 679V684.5M585.7 693H615M585.7 688V693.5M615 688V693.5" stroke="#0c0c0c" stroke-width="1.2" fill="none"/>
<text x="594.4" y="681.5" font-family="Liberation Serif,serif" font-weight="bold" font-size="5.6" fill="#111" text-anchor="middle">0.8</text>
<text x="609" y="681.5" font-family="Liberation Serif,serif" font-weight="bold" font-size="5.6" fill="#111" text-anchor="middle">0.5</text>
<text x="600.4" y="690.5" font-family="Liberation Serif,serif" font-weight="bold" font-size="5.6" fill="#111" text-anchor="middle">1.3</text>
<path d="M174.5 122.5H219" stroke="#cc2a2a" stroke-width="1.1" fill="none"/>
<path d="M174.5 217.5H219" stroke="#cc2a2a" stroke-width="1.1" fill="none"/>
<path d="M174.5 263.5H206" stroke="#cc2a2a" stroke-width="1.1" fill="none"/>
<path d="M174.5 300.5H194L202 274.5H206.7M221.5 274.5H238" stroke="#cc2a2a" stroke-width="1.1" fill="none"/>
<path d="M174.5 338.5H184L201 358.5H239.6" stroke="#cc2a2a" stroke-width="1.1" fill="none"/>
<path d="M174.5 376.5H184L203 406.5H240" stroke="#cc2a2a" stroke-width="1.1" fill="none"/>
<path d="M174.5 418.5H207" stroke="#cc2a2a" stroke-width="1.1" fill="none"/>
<path d="M174.5 536.5H219" stroke="#cc2a2a" stroke-width="1.1" fill="none"/>
<path d="M174.5 661.5H219" stroke="#cc2a2a" stroke-width="1.1" fill="none"/>
<path d="M649 122.5H606" stroke="#cc2a2a" stroke-width="1.1" fill="none"/>
<path d="M649 217.5H609.5" stroke="#cc2a2a" stroke-width="1.1" fill="none"/>
<path d="M649 258.5H640L628 263.5H587.5" stroke="#cc2a2a" stroke-width="1.1" fill="none"/>
<path d="M649 298.5H640.5L624 274.5H587.5" stroke="#cc2a2a" stroke-width="1.1" fill="none"/>
<path d="M649 344.5H645.5L623.7 358.5H587" stroke="#cc2a2a" stroke-width="1.1" fill="none"/>
<path d="M649 389.5H644.5L622.5 406.5H587.5" stroke="#cc2a2a" stroke-width="1.1" fill="none"/>
<path d="M649 433.5H644.5L624.5 418.5H587.5" stroke="#cc2a2a" stroke-width="1.1" fill="none"/>
<path d="M649 536.5H612.5" stroke="#cc2a2a" stroke-width="1.1" fill="none"/>
<path d="M649 661.5H606" stroke="#cc2a2a" stroke-width="1.1" fill="none"/>
<path d="M342.6 75V88L357.5 100V138" stroke="#cc2a2a" stroke-width="1.1" fill="none"/>
<path d="M384.5 75V120" stroke="#cc2a2a" stroke-width="1.1" fill="none"/>
<path d="M484.7 75V120" stroke="#cc2a2a" stroke-width="1.1" fill="none"/>
<path d="M603 75V120" stroke="#cc2a2a" stroke-width="1.1" fill="none"/>
<path d="M357.5 641V678L335 700.5V705" stroke="#cc2a2a" stroke-width="1.1" fill="none"/>
<path d="M384.5 662V705" stroke="#cc2a2a" stroke-width="1.1" fill="none"/>
<path d="M484.7 660V705" stroke="#cc2a2a" stroke-width="1.1" fill="none"/>
<path d="M603 664V705" stroke="#cc2a2a" stroke-width="1.1" fill="none"/>
<path d="M147.1 122.5L160.5 109.1L173.9 122.5L160.5 135.9ZM142.9 122.5H147.1M173.9 122.5H178.1M160.5 104.9V109.1M160.5 135.9V140.1" fill="#fff" stroke="#1a1a1a" stroke-width="1.15"/>
<circle cx="160.5" cy="122.5" r="9.2" fill="#fff" stroke="#1a1a1a" stroke-width="1"/>
<text x="160.5" y="126.1" text-anchor="middle" font-family="Liberation Serif,serif" font-weight="bold" font-size="10.6" fill="#c82424">9</text>
<path d="M147.1 217.5L160.5 204.1L173.9 217.5L160.5 230.9ZM142.9 217.5H147.1M173.9 217.5H178.1M160.5 199.9V204.1M160.5 230.9V235.1" fill="#fff" stroke="#1a1a1a" stroke-width="1.15"/>
<circle cx="160.5" cy="217.5" r="9.2" fill="#fff" stroke="#1a1a1a" stroke-width="1"/>
<text x="160.5" y="221.1" text-anchor="middle" font-family="Liberation Serif,serif" font-weight="bold" font-size="10.6" fill="#c82424">8</text>
<path d="M147.1 263.5L160.5 250.1L173.9 263.5L160.5 276.9ZM142.9 263.5H147.1M173.9 263.5H178.1M160.5 245.9V250.1M160.5 276.9V281.1" fill="#fff" stroke="#1a1a1a" stroke-width="1.15"/>
<circle cx="160.5" cy="263.5" r="9.2" fill="#fff" stroke="#1a1a1a" stroke-width="1"/>
<text x="160.5" y="267.1" text-anchor="middle" font-family="Liberation Serif,serif" font-weight="bold" font-size="10.6" fill="#c82424">7</text>
<path d="M147.1 300.5L160.5 287.1L173.9 300.5L160.5 313.9ZM142.9 300.5H147.1M173.9 300.5H178.1M160.5 282.9V287.1M160.5 313.9V318.1" fill="#fff" stroke="#1a1a1a" stroke-width="1.15"/>
<circle cx="160.5" cy="300.5" r="9.2" fill="#fff" stroke="#1a1a1a" stroke-width="1"/>
<text x="160.5" y="304.1" text-anchor="middle" font-family="Liberation Serif,serif" font-weight="bold" font-size="10.6" fill="#c82424">6</text>
<path d="M147.1 338.5L160.5 325.1L173.9 338.5L160.5 351.9ZM142.9 338.5H147.1M173.9 338.5H178.1M160.5 320.9V325.1M160.5 351.9V356.1" fill="#fff" stroke="#1a1a1a" stroke-width="1.15"/>
<circle cx="160.5" cy="338.5" r="9.2" fill="#fff" stroke="#1a1a1a" stroke-width="1"/>
<text x="160.5" y="342.1" text-anchor="middle" font-family="Liberation Serif,serif" font-weight="bold" font-size="10.6" fill="#c82424">5</text>
<path d="M147.1 376.5L160.5 363.1L173.9 376.5L160.5 389.9ZM142.9 376.5H147.1M173.9 376.5H178.1M160.5 358.9V363.1M160.5 389.9V394.1" fill="#fff" stroke="#1a1a1a" stroke-width="1.15"/>
<circle cx="160.5" cy="376.5" r="9.2" fill="#fff" stroke="#1a1a1a" stroke-width="1"/>
<text x="160.5" y="380.1" text-anchor="middle" font-family="Liberation Serif,serif" font-weight="bold" font-size="10.6" fill="#c82424">4</text>
<path d="M147.1 418.5L160.5 405.1L173.9 418.5L160.5 431.9ZM142.9 418.5H147.1M173.9 418.5H178.1M160.5 400.9V405.1M160.5 431.9V436.1" fill="#fff" stroke="#1a1a1a" stroke-width="1.15"/>
<circle cx="160.5" cy="418.5" r="9.2" fill="#fff" stroke="#1a1a1a" stroke-width="1"/>
<text x="160.5" y="422.1" text-anchor="middle" font-family="Liberation Serif,serif" font-weight="bold" font-size="10.6" fill="#c82424">3</text>
<path d="M147.1 536.5L160.5 523.1L173.9 536.5L160.5 549.9ZM142.9 536.5H147.1M173.9 536.5H178.1M160.5 518.9V523.1M160.5 549.9V554.1" fill="#fff" stroke="#1a1a1a" stroke-width="1.15"/>
<circle cx="160.5" cy="536.5" r="9.2" fill="#fff" stroke="#1a1a1a" stroke-width="1"/>
<text x="160.5" y="540.1" text-anchor="middle" font-family="Liberation Serif,serif" font-weight="bold" font-size="10.6" fill="#c82424">2</text>
<path d="M147.1 661.5L160.5 648.1L173.9 661.5L160.5 674.9ZM142.9 661.5H147.1M173.9 661.5H178.1M160.5 643.9V648.1M160.5 674.9V679.1" fill="#fff" stroke="#1a1a1a" stroke-width="1.15"/>
<circle cx="160.5" cy="661.5" r="9.2" fill="#fff" stroke="#1a1a1a" stroke-width="1"/>
<text x="160.5" y="665.1" text-anchor="middle" font-family="Liberation Serif,serif" font-weight="bold" font-size="10.6" fill="#c82424">1</text>
<path d="M649.6 122.5L663 109.1L676.4 122.5L663 135.9ZM645.4 122.5H649.6M676.4 122.5H680.6M663 104.9V109.1M663 135.9V140.1" fill="#fff" stroke="#1a1a1a" stroke-width="1.15"/>
<circle cx="663" cy="122.5" r="9.2" fill="#fff" stroke="#1a1a1a" stroke-width="1"/>
<text x="663" y="126.1" text-anchor="middle" font-family="Liberation Serif,serif" font-weight="bold" font-size="10.6" fill="#c82424">9</text>
<path d="M649.6 217.5L663 204.1L676.4 217.5L663 230.9ZM645.4 217.5H649.6M676.4 217.5H680.6M663 199.9V204.1M663 230.9V235.1" fill="#fff" stroke="#1a1a1a" stroke-width="1.15"/>
<circle cx="663" cy="217.5" r="9.2" fill="#fff" stroke="#1a1a1a" stroke-width="1"/>
<text x="663" y="221.1" text-anchor="middle" font-family="Liberation Serif,serif" font-weight="bold" font-size="10.6" fill="#c82424">8</text>
<path d="M649.6 258.5L663 245.1L676.4 258.5L663 271.9ZM645.4 258.5H649.6M676.4 258.5H680.6M663 240.9V245.1M663 271.9V276.1" fill="#fff" stroke="#1a1a1a" stroke-width="1.15"/>
<circle cx="663" cy="258.5" r="9.2" fill="#fff" stroke="#1a1a1a" stroke-width="1"/>
<text x="663" y="262.1" text-anchor="middle" font-family="Liberation Serif,serif" font-weight="bold" font-size="10.6" fill="#c82424">7</text>
<path d="M649.6 298.5L663 285.1L676.4 298.5L663 311.9ZM645.4 298.5H649.6M676.4 298.5H680.6M663 280.9V285.1M663 311.9V316.1" fill="#fff" stroke="#1a1a1a" stroke-width="1.15"/>
<circle cx="663" cy="298.5" r="9.2" fill="#fff" stroke="#1a1a1a" stroke-width="1"/>
<text x="663" y="302.1" text-anchor="middle" font-family="Liberation Serif,serif" font-weight="bold" font-size="10.6" fill="#c82424">6</text>
<path d="M649.6 344.5L663 331.1L676.4 344.5L663 357.9ZM645.4 344.5H649.6M676.4 344.5H680.6M663 326.9V331.1M663 357.9V362.1" fill="#fff" stroke="#1a1a1a" stroke-width="1.15"/>
<circle cx="663" cy="344.5" r="9.2" fill="#fff" stroke="#1a1a1a" stroke-width="1"/>
<text x="663" y="348.1" text-anchor="middle" font-family="Liberation Serif,serif" font-weight="bold" font-size="10.6" fill="#c82424">5</text>
<path d="M649.6 389.5L663 376.1L676.4 389.5L663 402.9ZM645.4 389.5H649.6M676.4 389.5H680.6M663 371.9V376.1M663 402.9V407.1" fill="#fff" stroke="#1a1a1a" stroke-width="1.15"/>
<circle cx="663" cy="389.5" r="9.2" fill="#fff" stroke="#1a1a1a" stroke-width="1"/>
<text x="663" y="393.1" text-anchor="middle" font-family="Liberation Serif,serif" font-weight="bold" font-size="10.6" fill="#c82424">4</text>
<path d="M649.6 433.5L663 420.1L676.4 433.5L663 446.9ZM645.4 433.5H649.6M676.4 433.5H680.6M663 415.9V420.1M663 446.9V451.1" fill="#fff" stroke="#1a1a1a" stroke-width="1.15"/>
<circle cx="663" cy="433.5" r="9.2" fill="#fff" stroke="#1a1a1a" stroke-width="1"/>
<text x="663" y="437.1" text-anchor="middle" font-family="Liberation Serif,serif" font-weight="bold" font-size="10.6" fill="#c82424">3</text>
<path d="M649.6 536.5L663 523.1L676.4 536.5L663 549.9ZM645.4 536.5H649.6M676.4 536.5H680.6M663 518.9V523.1M663 549.9V554.1" fill="#fff" stroke="#1a1a1a" stroke-width="1.15"/>
<circle cx="663" cy="536.5" r="9.2" fill="#fff" stroke="#1a1a1a" stroke-width="1"/>
<text x="663" y="540.1" text-anchor="middle" font-family="Liberation Serif,serif" font-weight="bold" font-size="10.6" fill="#c82424">2</text>
<path d="M649.6 661.5L663 648.1L676.4 661.5L663 674.9ZM645.4 661.5H649.6M676.4 661.5H680.6M663 643.9V648.1M663 674.9V679.1" fill="#fff" stroke="#1a1a1a" stroke-width="1.15"/>
<circle cx="663" cy="661.5" r="9.2" fill="#fff" stroke="#1a1a1a" stroke-width="1"/>
<text x="663" y="665.1" text-anchor="middle" font-family="Liberation Serif,serif" font-weight="bold" font-size="10.6" fill="#c82424">1</text>
<path d="M253.1 61L266.5 47.6L279.9 61L266.5 74.4ZM248.9 61H253.1M279.9 61H284.1M266.5 43.4V47.6M266.5 74.4V78.6" fill="#fff" stroke="#1a1a1a" stroke-width="1.15"/>
<circle cx="266.5" cy="61" r="9.2" fill="#fff" stroke="#1a1a1a" stroke-width="1"/>
<text x="266.5" y="64.3" text-anchor="middle" font-family="Liberation Serif,serif" font-weight="bold" font-size="9.9" fill="#c82424">A</text>
<path d="M329 61L342.4 47.6L355.8 61L342.4 74.4ZM324.8 61H329M355.8 61H360M342.4 43.4V47.6M342.4 74.4V78.6" fill="#fff" stroke="#1a1a1a" stroke-width="1.15"/>
<circle cx="342.4" cy="61" r="9.2" fill="#fff" stroke="#1a1a1a" stroke-width="1"/>
<text x="342.4" y="64.3" text-anchor="middle" font-family="Liberation Serif,serif" font-weight="bold" font-size="9.9" fill="#c82424">B</text>
<path d="M371.1 61L384.5 47.6L397.9 61L384.5 74.4ZM366.9 61H371.1M397.9 61H402.1M384.5 43.4V47.6M384.5 74.4V78.6" fill="#fff" stroke="#1a1a1a" stroke-width="1.15"/>
<circle cx="384.5" cy="61" r="9.2" fill="#fff" stroke="#1a1a1a" stroke-width="1"/>
<text x="384.5" y="64.3" text-anchor="middle" font-family="Liberation Serif,serif" font-weight="bold" font-size="9.9" fill="#c82424">C</text>
<path d="M471.1 61L484.5 47.6L497.9 61L484.5 74.4ZM466.9 61H471.1M497.9 61H502.1M484.5 43.4V47.6M484.5 74.4V78.6" fill="#fff" stroke="#1a1a1a" stroke-width="1.15"/>
<circle cx="484.5" cy="61" r="9.2" fill="#fff" stroke="#1a1a1a" stroke-width="1"/>
<text x="484.5" y="64.3" text-anchor="middle" font-family="Liberation Serif,serif" font-weight="bold" font-size="9.9" fill="#c82424">D</text>
<path d="M589.6 61L603 47.6L616.4 61L603 74.4ZM585.4 61H589.6M616.4 61H620.6M603 43.4V47.6M603 74.4V78.6" fill="#fff" stroke="#1a1a1a" stroke-width="1.15"/>
<circle cx="603" cy="61" r="9.2" fill="#fff" stroke="#1a1a1a" stroke-width="1"/>
<text x="603" y="64.3" text-anchor="middle" font-family="Liberation Serif,serif" font-weight="bold" font-size="9.9" fill="#c82424">E</text>
<path d="M252.9 719L266.3 705.6L279.7 719L266.3 732.4ZM248.7 719H252.9M279.7 719H283.9M266.3 701.4V705.6M266.3 732.4V736.6" fill="#fff" stroke="#1a1a1a" stroke-width="1.15"/>
<circle cx="266.3" cy="719" r="9.2" fill="#fff" stroke="#1a1a1a" stroke-width="1"/>
<text x="266.3" y="722.3" text-anchor="middle" font-family="Liberation Serif,serif" font-weight="bold" font-size="9.9" fill="#c82424">A</text>
<path d="M321.4 719L334.8 705.6L348.2 719L334.8 732.4ZM317.2 719H321.4M348.2 719H352.4M334.8 701.4V705.6M334.8 732.4V736.6" fill="#fff" stroke="#1a1a1a" stroke-width="1.15"/>
<circle cx="334.8" cy="719" r="9.2" fill="#fff" stroke="#1a1a1a" stroke-width="1"/>
<text x="334.8" y="722.3" text-anchor="middle" font-family="Liberation Serif,serif" font-weight="bold" font-size="9.9" fill="#c82424">B</text>
<path d="M371.1 719L384.5 705.6L397.9 719L384.5 732.4ZM366.9 719H371.1M397.9 719H402.1M384.5 701.4V705.6M384.5 732.4V736.6" fill="#fff" stroke="#1a1a1a" stroke-width="1.15"/>
<circle cx="384.5" cy="719" r="9.2" fill="#fff" stroke="#1a1a1a" stroke-width="1"/>
<text x="384.5" y="722.3" text-anchor="middle" font-family="Liberation Serif,serif" font-weight="bold" font-size="9.9" fill="#c82424">C</text>
<path d="M471.1 719L484.5 705.6L497.9 719L484.5 732.4ZM466.9 719H471.1M497.9 719H502.1M484.5 701.4V705.6M484.5 732.4V736.6" fill="#fff" stroke="#1a1a1a" stroke-width="1.15"/>
<circle cx="484.5" cy="719" r="9.2" fill="#fff" stroke="#1a1a1a" stroke-width="1"/>
<text x="484.5" y="722.3" text-anchor="middle" font-family="Liberation Serif,serif" font-weight="bold" font-size="9.9" fill="#c82424">D</text>
<path d="M589.3 719L602.7 705.6L616.1 719L602.7 732.4ZM585.1 719H589.3M616.1 719H620.3M602.7 701.4V705.6M602.7 732.4V736.6" fill="#fff" stroke="#1a1a1a" stroke-width="1.15"/>
<circle cx="602.7" cy="719" r="9.2" fill="#fff" stroke="#1a1a1a" stroke-width="1"/>
<text x="602.7" y="722.3" text-anchor="middle" font-family="Liberation Serif,serif" font-weight="bold" font-size="9.9" fill="#c82424">E</text>
<rect x="724.7" y="177.4" width="113.5" height="291.5" fill="#fff" stroke="#26269e" stroke-width="1.2"/>
<rect x="726.2" y="178.9" width="110.5" height="288.5" rx="4" fill="none" stroke="#5fbf6a" stroke-width="1"/>
<path d="M748.2 177.4V468.9M763.2 177.4V416M777.8 177.4V416M792.4 177.4V416M807.1 177.4V416M821.7 177.4V416M738.8 219.2V416M724.7 200.8H838.2M724.7 219.2H838.2M724.7 285.3H838.2M724.7 350H838.2M724.7 416H838.2M738.8 241H838.2M738.8 263.5H838.2M738.8 317.7H838.2M738.8 383.4H838.2" stroke="#26269e" stroke-width="1.1" fill="none"/>
<text transform="translate(757.5,189.1) rotate(-90)" font-family="Liberation Sans,DejaVu Sans,sans-serif" font-size="5.4" fill="#1c1c5a" text-anchor="middle" font-weight="bold">F1</text>
<text transform="translate(772.3,189.1) rotate(-90)" font-family="Liberation Sans,DejaVu Sans,sans-serif" font-size="5.4" fill="#1c1c5a" text-anchor="middle" font-weight="bold">F2</text>
<text transform="translate(786.9,189.1) rotate(-90)" font-family="Liberation Sans,DejaVu Sans,sans-serif" font-size="5.4" fill="#1c1c5a" text-anchor="middle" font-weight="bold">F3</text>
<text transform="translate(801.6,189.1) rotate(-90)" font-family="Liberation Sans,DejaVu Sans,sans-serif" font-size="5.4" fill="#1c1c5a" text-anchor="middle" font-weight="bold">F4</text>
<text transform="translate(816.2,189.1) rotate(-90)" font-family="Liberation Sans,DejaVu Sans,sans-serif" font-size="5.4" fill="#1c1c5a" text-anchor="middle" font-weight="bold">F5</text>
<text transform="translate(757.5,210) rotate(-90)" font-family="Liberation Sans,DejaVu Sans,sans-serif" font-size="5.4" fill="#1c1c5a" text-anchor="middle" >3</text>
<text transform="translate(772.3,210) rotate(-90)" font-family="Liberation Sans,DejaVu Sans,sans-serif" font-size="5.4" fill="#1c1c5a" text-anchor="middle" >8</text>
<text transform="translate(786.9,210) rotate(-90)" font-family="Liberation Sans,DejaVu Sans,sans-serif" font-size="5.4" fill="#1c1c5a" text-anchor="middle" >7</text>
<text transform="translate(801.6,210) rotate(-90)" font-family="Liberation Sans,DejaVu Sans,sans-serif" font-size="5.4" fill="#1c1c5a" text-anchor="middle" >4</text>
<text transform="translate(816.2,210) rotate(-90)" font-family="Liberation Sans,DejaVu Sans,sans-serif" font-size="5.4" fill="#1c1c5a" text-anchor="middle" >2</text>
<text transform="translate(757.5,230.1) rotate(-90)" font-family="Liberation Sans,DejaVu Sans,sans-serif" font-size="5.4" fill="#1c1c5a" text-anchor="middle" >0.40</text>
<text transform="translate(772.3,230.1) rotate(-90)" font-family="Liberation Sans,DejaVu Sans,sans-serif" font-size="5.4" fill="#1c1c5a" text-anchor="middle" >0.40</text>
<text transform="translate(786.9,230.1) rotate(-90)" font-family="Liberation Sans,DejaVu Sans,sans-serif" font-size="5.4" fill="#1c1c5a" text-anchor="middle" >0.40</text>
<text transform="translate(801.6,230.1) rotate(-90)" font-family="Liberation Sans,DejaVu Sans,sans-serif" font-size="5.4" fill="#1c1c5a" text-anchor="middle" >0.40</text>
<text transform="translate(816.2,230.1) rotate(-90)" font-family="Liberation Sans,DejaVu Sans,sans-serif" font-size="5.4" fill="#1c1c5a" text-anchor="middle" >0.40</text>
<text transform="translate(757.5,252.2) rotate(-90)" font-family="Liberation Sans,DejaVu Sans,sans-serif" font-size="5.4" fill="#1c1c5a" text-anchor="middle" >1.80</text>
<text transform="translate(772.3,252.2) rotate(-90)" font-family="Liberation Sans,DejaVu Sans,sans-serif" font-size="5.4" fill="#1c1c5a" text-anchor="middle" >1.80</text>
<text transform="translate(786.9,252.2) rotate(-90)" font-family="Liberation Sans,DejaVu Sans,sans-serif" font-size="5.4" fill="#1c1c5a" text-anchor="middle" >1.40</text>
<text transform="translate(801.6,252.2) rotate(-90)" font-family="Liberation Sans,DejaVu Sans,sans-serif" font-size="5.4" fill="#1c1c5a" text-anchor="middle" >1.20</text>
<text transform="translate(816.2,252.2) rotate(-90)" font-family="Liberation Sans,DejaVu Sans,sans-serif" font-size="5.4" fill="#1c1c5a" text-anchor="middle" >1.00</text>
<text transform="translate(757.5,274.4) rotate(-90)" font-family="Liberation Sans,DejaVu Sans,sans-serif" font-size="5.4" fill="#1c1c5a" text-anchor="middle" >2.20</text>
<text transform="translate(772.3,274.4) rotate(-90)" font-family="Liberation Sans,DejaVu Sans,sans-serif" font-size="5.4" fill="#1c1c5a" text-anchor="middle" >1.90</text>
<text transform="translate(786.9,274.4) rotate(-90)" font-family="Liberation Sans,DejaVu Sans,sans-serif" font-size="5.4" fill="#1c1c5a" text-anchor="middle" >1.70</text>
<text transform="translate(801.6,274.4) rotate(-90)" font-family="Liberation Sans,DejaVu Sans,sans-serif" font-size="5.4" fill="#1c1c5a" text-anchor="middle" >1.50</text>
<text transform="translate(816.2,274.4) rotate(-90)" font-family="Liberation Sans,DejaVu Sans,sans-serif" font-size="5.4" fill="#1c1c5a" text-anchor="middle" >1.30</text>
<text transform="translate(757.5,301.5) rotate(-90)" font-family="Liberation Sans,DejaVu Sans,sans-serif" font-size="5.4" fill="#1c1c5a" text-anchor="middle" >11Φ16</text>
<text transform="translate(772.3,301.5) rotate(-90)" font-family="Liberation Sans,DejaVu Sans,sans-serif" font-size="5.4" fill="#1c1c5a" text-anchor="middle" >10Φ16</text>
<text transform="translate(786.9,301.5) rotate(-90)" font-family="Liberation Sans,DejaVu Sans,sans-serif" font-size="5.4" fill="#1c1c5a" text-anchor="middle" >9Φ16</text>
<text transform="translate(801.6,301.5) rotate(-90)" font-family="Liberation Sans,DejaVu Sans,sans-serif" font-size="5.4" fill="#1c1c5a" text-anchor="middle" >8Φ16</text>
<text transform="translate(816.2,301.5) rotate(-90)" font-family="Liberation Sans,DejaVu Sans,sans-serif" font-size="5.4" fill="#1c1c5a" text-anchor="middle" >7Φ16</text>
<text transform="translate(757.5,333.8) rotate(-90)" font-family="Liberation Sans,DejaVu Sans,sans-serif" font-size="5.4" fill="#1c1c5a" text-anchor="middle" >11Φ16</text>
<text transform="translate(772.3,333.8) rotate(-90)" font-family="Liberation Sans,DejaVu Sans,sans-serif" font-size="5.4" fill="#1c1c5a" text-anchor="middle" >10Φ16</text>
<text transform="translate(786.9,333.8) rotate(-90)" font-family="Liberation Sans,DejaVu Sans,sans-serif" font-size="5.4" fill="#1c1c5a" text-anchor="middle" >9Φ16</text>
<text transform="translate(801.6,333.8) rotate(-90)" font-family="Liberation Sans,DejaVu Sans,sans-serif" font-size="5.4" fill="#1c1c5a" text-anchor="middle" >8Φ16</text>
<text transform="translate(816.2,333.8) rotate(-90)" font-family="Liberation Sans,DejaVu Sans,sans-serif" font-size="5.4" fill="#1c1c5a" text-anchor="middle" >5Φ16</text>
<text transform="translate(737.5,190.5) rotate(-52) scale(0.69,1)" text-anchor="middle" font-family="Liberation Sans,DejaVu Sans,sans-serif" font-weight="bold" font-size="6.5" fill="#1c1c5a"  direction="rtl">نموذج</text>
<text transform="translate(733.5,210) rotate(-90) scale(0.77,1)" text-anchor="middle" font-family="Liberation Sans,DejaVu Sans,sans-serif" font-weight="bold" font-size="6" fill="#1c1c5a"  direction="rtl">العدد</text>
<text transform="translate(733.8,252) rotate(-90) scale(0.88,1)" text-anchor="middle" font-family="Liberation Sans,DejaVu Sans,sans-serif" font-weight="bold" font-size="6" fill="#1c1c5a"  direction="rtl">الأبعاد (متر)</text>
<text transform="translate(745.3,230.1) rotate(-90)" font-family="Liberation Sans,DejaVu Sans,sans-serif" font-size="5.4" fill="#1c1c5a" text-anchor="middle" font-weight="bold">H</text>
<text transform="translate(745.3,252.2) rotate(-90)" font-family="Liberation Sans,DejaVu Sans,sans-serif" font-size="5.4" fill="#1c1c5a" text-anchor="middle" font-weight="bold">B</text>
<text transform="translate(745.3,274.4) rotate(-90)" font-family="Liberation Sans,DejaVu Sans,sans-serif" font-size="5.4" fill="#1c1c5a" text-anchor="middle" font-weight="bold">A</text>
<text transform="translate(733.8,317.5) rotate(-90) scale(0.71,1)" text-anchor="middle" font-family="Liberation Sans,DejaVu Sans,sans-serif" font-weight="bold" font-size="6" fill="#1c1c5a"  direction="rtl">حديد التسليح السفلي</text>
<text transform="translate(745.3,301.5) rotate(-90) scale(0.71,1)" text-anchor="middle" font-family="Liberation Sans,DejaVu Sans,sans-serif" font-weight="bold" font-size="5.6" fill="#1c1c5a"  direction="rtl">في الاتجاه (A)</text>
<text transform="translate(745.3,333.8) rotate(-90) scale(0.71,1)" text-anchor="middle" font-family="Liberation Sans,DejaVu Sans,sans-serif" font-weight="bold" font-size="5.6" fill="#1c1c5a"  direction="rtl">في الاتجاه (B)</text>
<text transform="translate(733.8,383) rotate(-90) scale(0.75,1)" text-anchor="middle" font-family="Liberation Sans,DejaVu Sans,sans-serif" font-weight="bold" font-size="6" fill="#1c1c5a"  direction="rtl">حديد التسليح العلوي</text>
<text transform="translate(745.3,366.7) rotate(-90) scale(0.71,1)" text-anchor="middle" font-family="Liberation Sans,DejaVu Sans,sans-serif" font-weight="bold" font-size="5.6" fill="#1c1c5a"  direction="rtl">في الاتجاه (A)</text>
<text transform="translate(745.3,399.7) rotate(-90) scale(0.71,1)" text-anchor="middle" font-family="Liberation Sans,DejaVu Sans,sans-serif" font-weight="bold" font-size="5.6" fill="#1c1c5a"  direction="rtl">في الاتجاه (B)</text>
<text transform="translate(738,442.5) rotate(-90) scale(0.66,1)" text-anchor="middle" font-family="Liberation Sans,DejaVu Sans,sans-serif" font-weight="bold" font-size="6.5" fill="#1c1c5a"  direction="rtl">ملاحظات</text>
<text transform="translate(756.8,442.5) rotate(-90) scale(0.68,1)" text-anchor="middle" font-family="Liberation Sans,DejaVu Sans,sans-serif" font-size="5.2" fill="#1c1c5a"  direction="rtl">حديد الفرش السفلي</text>
<text transform="translate(761.8,442.5) rotate(-90) scale(0.77,1)" text-anchor="middle" font-family="Liberation Sans,DejaVu Sans,sans-serif" font-size="5.2" fill="#1c1c5a"  direction="rtl">التسليح في اتجاهين</text>
<text transform="translate(766.8,442.5) rotate(-90) scale(0.79,1)" text-anchor="middle" font-family="Liberation Sans,DejaVu Sans,sans-serif" font-size="5.2" fill="#1c1c5a"  direction="rtl">كل 15 سم</text>
<text transform="translate(714,320) rotate(-90) scale(0.93,1)" text-anchor="middle" font-family="Liberation Serif,DejaVu Sans,serif" font-size="11.5" fill="#d83030"  direction="rtl">جدول ابعاد وتسليح القواعد</text>
<path d="M719.2 262V378" stroke="#d83030" stroke-width="0.8"/>
<path d="M866.4 47.6V728.6M871.4 50.2H1034.4V153H871.4ZM871.4 157H1034.4V199.4H871.4ZM871.4 201.6H1034.4V419.6H871.4ZM871.4 421.6H1034.4V500H871.4ZM871.4 502.4H1034.4V528.2H871.4ZM871.4 530.4H1034.4V554.5H871.4ZM871.4 557H1034.4V581.3H871.4ZM871.4 583.6H1034.4V601.3H871.4ZM871.4 603.6H1034.4V628.6H871.4ZM871.4 630.6H1034.4V652.2H871.4ZM871.4 654.2H1034.4V679.7H871.4ZM871.4 681.4H1034.4V703.5H871.4ZM871.4 705.5H1034.4V727.5H871.4ZM976.5 502.4V528.2M979.7 502.4V528.2M976.5 530.4V554.5M979.7 530.4V554.5M976.5 557V581.3M979.7 557V581.3M976.5 583.6V601.3M979.7 583.6V601.3M976.5 603.6V628.6M979.7 603.6V628.6M976.5 630.6V652.2M979.7 630.6V652.2M948 681.4V703.5M950.6 681.4V703.5" fill="none" stroke="#e3a070" stroke-width="1"/>
<g><rect x="897" y="52" width="109" height="99" fill="#fcfcfb"/><path d="M904.7 88L920 84.2L925 93L919 103L907 103.5L903 96Z" fill="none" stroke="#c2cad4" stroke-width="1.4"/><path d="M905.5 112.5L927 93" stroke="#bdbdbd" stroke-width="1.1"/><circle cx="903.3" cy="114.6" r="3" fill="#f2f2f2" stroke="#b0b0b0" stroke-width="1.1"/><path d="M919.7 97V78L922.7 73L925.7 78V97Z" fill="#adadad"/><path d="M930.6 92V75.5H935.5V92Z" fill="#858585"/><path d="M937.6 92V75H942.6V92Z" fill="#9c9c9c"/><path d="M946 92V66L949.5 63.5L953 66V92Z" fill="#767676"/><path d="M957 92V62L958.9 52L960.8 62V92Z" fill="#b8b8b8"/><path d="M961.5 92V64L965.3 59L969.2 64V92Z" fill="#b4b4b4"/><path d="M997.2 92V74L1000 70L1002.8 74V92Z" fill="#b6b6b6"/><path d="M920.5 80H925M920.5 84H925M920.5 88H925M962.3 66H968.5M962.3 70H968.5M962.3 74H968.5M962.3 78H968.5M962.3 82H968.5M962.3 86H968.5M957.6 66H960.2M957.6 71H960.2M957.6 76H960.2M957.6 81H960.2M957.6 86H960.2M998 77H1002M998 81H1002M998 85H1002" stroke="#efefef" stroke-width=".8"/><path d="M903.5 130.3Q900.5 130 903 127.5L941 89.5H1005V104L991 110L968.5 130.3Z" fill="#4b4b4b"/><path d="M927 117L948 95H1000L982 112Z" fill="#3a3a3a"/><path d="M930 113H986M935 108H990M940 103H994M945 98H998M950 95V113M958 95V113M966 95V113M974 95V113M982 95V113" stroke="#8e8e8e" stroke-width=".7" fill="none"/><path d="M921 113.2H986V115.4H921Z" fill="#b9b9b9"/><path d="M926 113L950 104L975 113M926 113L938 106M975 113L990 106" stroke="#a5a5a5" stroke-width=".9" fill="none"/><path d="M921 104H926.7V126.5H921Z" fill="#b3b3b3"/><path d="M994 92H1005V106H994Z" fill="#7c7c7c"/><ellipse cx="984.2" cy="78.1" rx="12.6" ry="17.8" fill="#f4f4f2" stroke="#424242" stroke-width="1.7"/><path d="M977 74.5L984 69.5L991 74.5V81.6H977Z" fill="#f0a030"/><path d="M979.3 76H982V80H979.3Z" fill="#fdf0d0"/><path d="M984 78Q987.5 74.5 990.5 78V81.6H984Z" fill="#7a5a30"/><path d="M972.5 82.3H996" stroke="#444" stroke-width="1.2"/><path d="M986 83C990 87 978 88 983 92C985 94 979 95 978.5 96" stroke="#555" stroke-width="2.2" fill="none"/><path d="M944.5 128C942.5 123 948 120.5 951.5 122.5C953 118.5 960 118.5 962 121.5C966 119 972 122 970.5 126.5C974 129.5 971.5 135.5 967 134.5C965.5 139 958.5 139.5 956 136.5C952 139 946 136.5 947 132.5C943.5 132.5 942.5 129.5 944.5 128Z" fill="#f6f4cb" stroke="#555" stroke-width="1.2"/><ellipse cx="962.5" cy="144.4" rx="2.6" ry="1.5" fill="#4a4a4a"/><ellipse cx="964.3" cy="148.6" rx="1.8" ry="1.2" fill="#4a4a4a"/><path d="M972.5 134.5L974 119L975.5 134.5M982.7 134.5L984.2 119L985.7 134.5" stroke="#9a9a9a" stroke-width="1.2" fill="#eee"/><path d="M974 118V123M984.2 118V123" stroke="#333" stroke-width="1.2"/></g>
<text transform="translate(953.3,172.6) scale(0.79,1)" text-anchor="middle" font-family="Liberation Sans,DejaVu Sans,sans-serif" font-weight="bold" font-size="13.5" fill="#2626a8"  direction="rtl">المهنـــدس محـــمــد شــــــداد</text>
<text transform="translate(953.3,187.6) scale(0.68,1)" text-anchor="middle" font-family="Liberation Sans,DejaVu Sans,sans-serif" font-weight="bold" font-size="13.5" fill="#2626a8"  direction="rtl">للتـصـاميم والاستشارات الهنــدسـية</text>
<text transform="translate(961,211.6) scale(0.62,1)" text-anchor="middle" font-family="Liberation Sans,DejaVu Sans,sans-serif" font-weight="bold" font-size="11.5" fill="#d83030"  direction="rtl">الملاحظات الإنشائية</text>
<path d="M926 215.2H996" stroke="#d83030" stroke-width="1"/>
<rect x="878.4" y="219.6" width="148.9" height="192.9" fill="#fff" stroke="#6fd072" stroke-width="1.5"/>
<path d="M878.4 238.5H1027.3M878.4 259.3H1027.3M878.4 280.3H1027.3M878.4 301.3H1027.3M878.4 321.7H1027.3M878.4 342.3H1027.3M878.4 363.4H1027.3M878.4 384.4H1027.3" stroke="#555" stroke-width="0.9"/>
<text transform="translate(952.3,227.2) scale(0.72,1)" text-anchor="middle" font-family="Liberation Sans,DejaVu Sans,sans-serif" font-weight="bold" font-size="6.4" fill="#151515"  direction="rtl">يجب ان لاتقل مقاومة الخرسانة الأسطوانية للضغط بعد ٢٨ يوم</text>
<text transform="translate(952.3,235.8) scale(0.9,1)" text-anchor="middle" font-family="Liberation Sans,DejaVu Sans,sans-serif" font-weight="bold" font-size="6.4" fill="#151515"  direction="rtl">عن 25Mpa</text>
<text transform="translate(953.35,247.5) scale(0.72,1)" text-anchor="middle" font-family="Liberation Sans,DejaVu Sans,sans-serif" font-weight="bold" font-size="6.4" fill="#151515"  direction="rtl">يجب ان لاتقل مقاومة الخضوع لحديد التسليح عن</text>
<text transform="translate(952.85,255.8) scale(0.98,1)" text-anchor="middle" font-family="Liberation Sans,DejaVu Sans,sans-serif" font-weight="bold" font-size="4.6" fill="#151515" >fy =420 Mpa (G60)</text>
<text transform="translate(954.35,270.2) scale(0.76,1)" text-anchor="middle" font-family="Liberation Sans,DejaVu Sans,sans-serif" font-weight="bold" font-size="6.4" fill="#151515"  direction="rtl">يجب ان لاتقل قدرة تحمل التربة المسموح بهاعن 250KN/m²</text>
<text transform="translate(955.2,291.3) scale(0.71,1)" text-anchor="middle" font-family="Liberation Sans,DejaVu Sans,sans-serif" font-weight="bold" font-size="6.4" fill="#151515"  direction="rtl">مراكز جميع الاعمدة هي مراكز القواعد مالم يذكر خلاف ذلك</text>
<text transform="translate(959,312.8) scale(0.71,1)" text-anchor="middle" font-family="Liberation Sans,DejaVu Sans,sans-serif" font-weight="bold" font-size="6.4" fill="#151515"  direction="rtl">يجب ان لا يقل الغطاء الخرساني في القواعد عن ٥ سم</text>
<text transform="translate(953.7,333) scale(0.69,1)" text-anchor="middle" font-family="Liberation Sans,DejaVu Sans,sans-serif" font-weight="bold" font-size="6.4" fill="#151515"  direction="rtl">صممت القواعد لتتحمل دورين فقط  بما في ذلك رقاب الأعمدة فقط</text>
<text transform="translate(955.5,350.7) scale(0.71,1)" text-anchor="middle" font-family="Liberation Sans,DejaVu Sans,sans-serif" font-weight="bold" font-size="6.4" fill="#151515"  direction="rtl">يجب استخدام الهزاز الميكانيكي في عملية الصب لضمان تجانس</text>
<text transform="translate(956,358) scale(0.7,1)" text-anchor="middle" font-family="Liberation Sans,DejaVu Sans,sans-serif" font-weight="bold" font-size="6.4" fill="#151515"  direction="rtl">وكفاءة الخلطة الخرسانية وعدم حدوث تعشيش للاعمدة</text>
<text transform="translate(952.15,372.3) scale(0.68,1)" text-anchor="middle" font-family="Liberation Sans,DejaVu Sans,sans-serif" font-weight="bold" font-size="6.4" fill="#151515"  direction="rtl">تسليح الفرش يكون الفرش في الإتجاه الطويل و الغطاء في</text>
<text transform="translate(952.5,379.4) scale(0.67,1)" text-anchor="middle" font-family="Liberation Sans,DejaVu Sans,sans-serif" font-weight="bold" font-size="6.4" fill="#151515"  direction="rtl">في الإتجاه القصير</text>
<text transform="translate(955.15,400.5) scale(0.73,1)" text-anchor="middle" font-family="Liberation Sans,DejaVu Sans,sans-serif" font-weight="bold" font-size="6.4" fill="#151515"  direction="rtl">اي تغيير او  غموض يتم الرجوع الى المهندس المصمم</text>
<g><path d="M952.4 421.2L949.0 431.6H955.8Z" fill="#111"/><path d="M952.4 426V436M952.4 448.5V453" stroke="#111" stroke-width="1.2"/><text x="952.4" y="447.4" text-anchor="middle" font-family="Liberation Sans,sans-serif" font-weight="bold" font-size="12" fill="#7a1a1a">N</text><circle cx="952.4" cy="472.2" r="18.6" fill="#fff" stroke="#4a1212" stroke-width="2.4"/><circle cx="952.4" cy="472.2" r="19.8" fill="none" stroke="#111" stroke-width=".6"/><path d="M924.1999999999999 472.2l7 -2.6v5.2Z M980.0 472.2l-7 -2.6v5.2Z M952.4 500.2l-2.6 -7h5.2Z" fill="#111"/><path d="M930.4 472.2h3M971.4 472.2h3M952.4 491.2v3" stroke="#111" stroke-width="1"/><path d="M966.5 486.3L970.1 489.9M938.3 486.3L934.7 489.9M938.3 458.1L934.7 454.5M966.5 458.1L970.1 454.5" stroke="#333" stroke-width=".7"/><path d="M969.2 474.8L969.2 469.6L964.6 472.2ZM962.9 485.5L965.7 482.7L961 480.8ZM949.8 489L955 489L952.4 484.4ZM939.1 482.7L941.9 485.5L943.8 480.8ZM935.6 469.6L935.6 474.8L940.2 472.2ZM941.9 458.9L939.1 461.7L943.8 463.6ZM955 455.4L949.8 455.4L952.4 460ZM965.7 461.7L962.9 458.9L961 463.6Z" fill="#111"/><circle cx="952.4" cy="472.2" r="8.4" fill="#fff" stroke="#111" stroke-width=".8"/><circle cx="952.4" cy="472.2" r="6.4" fill="none" stroke="#111" stroke-width=".7"/><path d="M946.2 472.2L958.6 472.2M948 467.8L956.8 476.6M952.4 466L952.4 478.4M956.8 467.8L948 476.6" stroke="#111" stroke-width=".7"/><circle cx="952.4" cy="472.2" r="1.3" fill="#111"/></g>
<text transform="translate(1003.75,517.3) scale(0.62,1)" text-anchor="middle" font-family="Liberation Sans,DejaVu Sans,sans-serif" font-size="11" fill="#2424b4"  direction="rtl">نوع المشروع</text>
<path d="M984.5 518.1999999999999H1023" stroke="#2424b4" stroke-width=".8"/>
<text transform="translate(923.85,517.3) scale(0.69,1)" text-anchor="middle" font-family="Liberation Serif,DejaVu Sans,serif" font-size="9.5" fill="#cf3030"  direction="rtl">مبنى سكني</text>
<text transform="translate(1004.55,543.2) scale(0.76,1)" text-anchor="middle" font-family="Liberation Sans,DejaVu Sans,sans-serif" font-size="11" fill="#2424b4"  direction="rtl">المالك</text>
<path d="M992.6 544.1H1016.5" stroke="#2424b4" stroke-width=".8"/>
<text transform="translate(1006.85,571.4) scale(0.65,1)" text-anchor="middle" font-family="Liberation Sans,DejaVu Sans,sans-serif" font-size="11" fill="#2424b4"  direction="rtl">الموقع</text>
<text transform="translate(928.15,571.6) scale(0.76,1)" text-anchor="middle" font-family="Liberation Serif,DejaVu Sans,serif" font-size="9.5" fill="#cf3030"  direction="rtl">خميس مشيط - الســعودية</text>
<text transform="translate(1006.55,596) scale(0.75,1)" text-anchor="middle" font-family="Liberation Sans,DejaVu Sans,sans-serif" font-size="10" fill="#2424b4"  direction="rtl">اسم المخطط</text>
<path d="M984.5 596.9H1028.6" stroke="#2424b4" stroke-width=".8"/>
<text transform="translate(925.45,593.6) scale(0.65,1)" text-anchor="middle" font-family="Liberation Serif,DejaVu Sans,serif" font-size="9.5" fill="#cf3030"  direction="rtl">مخطط القواعد</text>
<text transform="translate(1005.45,619.2) scale(0.8,1)" text-anchor="middle" font-family="Liberation Sans,DejaVu Sans,sans-serif" font-size="10" fill="#2424b4"  direction="rtl">نوع المخطط</text>
<path d="M983.5 620.1H1027.4" stroke="#2424b4" stroke-width=".8"/>
<text transform="translate(924.4,621.8) scale(0.97,1)" text-anchor="middle" font-family="Liberation Serif,DejaVu Sans,serif" font-size="10" fill="#cf3030"  direction="rtl">إنشـــــائي</text>
<text transform="translate(1003.3,642.8) scale(0.82,1)" text-anchor="middle" font-family="Liberation Sans,DejaVu Sans,sans-serif" font-weight="bold" font-size="7.5" fill="#2424b4"  direction="rtl">تصميم</text>
<text transform="translate(922.7,643.6) scale(1.01,1)" text-anchor="middle" font-family="Liberation Serif,DejaVu Sans,serif" font-size="10" fill="#cf3030"  direction="rtl">م / محـــمد شـــــداد</text>
<defs><filter id="rg" x="-5%" y="-20%" width="110%" height="140%"><feTurbulence type="fractalNoise" baseFrequency=".9" numOctaves="2" seed="3"/><feDisplacementMap in="SourceGraphic" scale="2.2"/></filter></defs>
<g filter="url(#rg)" fill="#fb3a36"><path d="M884 534C890 528 930 527 956 529C966 530 967 548 960 552C940 556 900 556 887 553C878 550 878 540 884 534Z"/><path d="M874 660C880 652 960 653 1030 656C1040 660 1039 676 1030 679C990 683 900 684 880 681C869 677 869 666 874 660Z"/></g>
<text transform="translate(891.5,696) scale(1.05,1)" text-anchor="middle" font-family="Liberation Sans,sans-serif" font-weight="bold" font-size="8" fill="#cf3030" >ST.05</text>
<text transform="translate(925,693) scale(0.73,1)" text-anchor="middle" font-family="Liberation Sans,DejaVu Sans,sans-serif" font-size="7.5" fill="#2424b4"  direction="rtl">رقم المخطط :</text>
<text transform="translate(969.6,696) scale(1.05,1)" text-anchor="middle" font-family="Liberation Sans,sans-serif" font-weight="bold" font-size="8" fill="#cf3030" >2023/7/30</text>
<text transform="translate(1022,696.5) scale(0.63,1)" text-anchor="middle" font-family="Liberation Sans,DejaVu Sans,sans-serif" font-size="8" fill="#2424b4"  direction="rtl">التاريخ :</text>
<text transform="translate(910.4,716.7) scale(0.97,1)" text-anchor="middle" font-family="Liberation Sans,sans-serif" font-weight="bold" font-size="7.6" fill="#cf3030" >As indicated</text>
<text transform="translate(1013,719.4) scale(0.59,1)" text-anchor="middle" font-family="Liberation Sans,DejaVu Sans,sans-serif" font-size="7" fill="#2424b4"  direction="rtl">مقياس الرسم</text>
<g opacity=".17" fill="#6e6e6e"><text transform="translate(539.5,750) scale(1.05,1)" text-anchor="middle" font-family="Liberation Sans,sans-serif" font-weight="bold" font-size="20" fill="#111" >mostaql.com</text><text transform="translate(546,730) scale(0.76,1)" text-anchor="middle" font-family="Liberation Sans,DejaVu Sans,sans-serif" font-weight="bold" font-size="40" fill="#111"  direction="rtl">مستقل</text></g>
</svg>
</body></html>
